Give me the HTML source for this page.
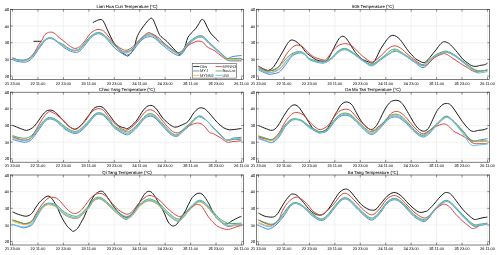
<!DOCTYPE html><html><head><meta charset="utf-8"><style>html,body{margin:0;padding:0;background:#fff;width:500px;height:255px;overflow:hidden}svg{display:block}text{font-family:"Liberation Sans",sans-serif;text-rendering:geometricPrecision}.t{filter:grayscale(1) blur(0.22px)}</style></head><body>
<svg width="500" height="255" viewBox="0 0 500 255">
<path d="M12.52 9.40V79.40M37.96 9.40V79.40M63.40 9.40V79.40M88.84 9.40V79.40M114.28 9.40V79.40M139.72 9.40V79.40M165.16 9.40V79.40M190.60 9.40V79.40M216.04 9.40V79.40M241.48 9.40V79.40M10.40 76.07H243.60M10.40 59.40H243.60M10.40 42.73H243.60M10.40 26.07H243.60" stroke="#e4e4e4" stroke-width="0.5" fill="none"/>
<clipPath id="cp0"><rect x="12.52" y="4.40" width="228.96" height="80.00"/></clipPath><g clip-path="url(#cp0)">
<path d="M33.90 41.30 C35.08 41.30 39.82 41.30 41.00 41.30" stroke="#1a1a1a" stroke-width="1.00" fill="none" stroke-linejoin="round" stroke-linecap="round"/>
<path d="M93.10 22.50 C93.68 22.20 95.28 21.20 96.60 20.70 C97.92 20.20 99.82 19.32 101.00 19.50 C102.18 19.68 102.67 20.17 103.70 21.80 C104.73 23.43 106.03 26.78 107.20 29.30 C108.37 31.82 109.38 34.30 110.70 36.90 C112.02 39.50 113.48 42.55 115.10 44.90 C116.72 47.25 118.63 49.33 120.40 51.00 C122.17 52.67 124.48 54.07 125.70 54.90 C126.92 55.73 126.78 56.32 127.70 56.00 C128.62 55.68 130.08 54.53 131.20 53.00 C132.32 51.47 133.43 49.43 134.40 46.80 C135.37 44.17 136.00 39.90 137.00 37.20 C138.00 34.50 138.97 32.88 140.40 30.60 C141.83 28.32 143.90 25.55 145.60 23.50 C147.30 21.45 149.32 18.88 150.60 18.30 C151.88 17.72 152.42 18.70 153.30 20.00 C154.18 21.30 154.88 23.68 155.90 26.10 C156.92 28.52 158.25 32.50 159.40 34.50 C160.55 36.50 161.52 36.92 162.80 38.10 C164.08 39.28 165.37 39.90 167.10 41.60 C168.83 43.30 171.50 46.52 173.20 48.30 C174.90 50.08 176.27 51.25 177.30 52.30 C178.33 53.35 178.62 54.60 179.40 54.60 C180.18 54.60 181.18 53.32 182.00 52.30 C182.82 51.28 183.63 49.97 184.30 48.50 C184.97 47.03 185.42 45.32 186.00 43.50 C186.58 41.68 186.93 39.32 187.80 37.60 C188.67 35.88 189.90 34.68 191.20 33.20 C192.50 31.72 194.30 30.32 195.60 28.70 C196.90 27.08 198.00 25.03 199.00 23.50 C200.00 21.97 200.73 19.93 201.60 19.50 C202.47 19.07 203.20 19.52 204.20 20.90 C205.20 22.28 206.45 25.65 207.60 27.80 C208.75 29.95 209.80 32.08 211.10 33.80 C212.40 35.52 214.17 36.87 215.40 38.10 C216.63 39.33 217.98 40.68 218.50 41.20" stroke="#1a1a1a" stroke-width="1.00" fill="none" stroke-linejoin="round" stroke-linecap="round"/>
<path d="M10.40 58.60 C11.33 59.00 13.78 60.40 16.00 61.00 C18.22 61.60 21.53 62.23 23.70 62.20 C25.87 62.17 27.28 61.83 29.00 60.80 C30.72 59.77 32.45 57.87 34.00 56.00 C35.55 54.13 36.97 51.52 38.30 49.60 C39.63 47.68 40.88 46.02 42.00 44.50 C43.12 42.98 43.87 41.48 45.00 40.50 C46.13 39.52 47.47 38.82 48.80 38.60 C50.13 38.38 51.30 38.38 53.00 39.20 C54.70 40.02 57.17 42.12 59.00 43.50 C60.83 44.88 62.33 46.33 64.00 47.50 C65.67 48.67 67.08 49.68 69.00 50.50 C70.92 51.32 73.67 52.35 75.50 52.40 C77.33 52.45 78.38 52.05 80.00 50.80 C81.62 49.55 83.37 47.12 85.20 44.90 C87.03 42.68 88.95 39.35 91.00 37.50 C93.05 35.65 95.50 34.13 97.50 33.80 C99.50 33.47 101.23 34.38 103.00 35.50 C104.77 36.62 106.08 38.35 108.10 40.50 C110.12 42.65 112.45 46.05 115.10 48.40 C117.75 50.75 122.02 53.47 124.00 54.60 C125.98 55.73 125.67 55.63 127.00 55.20 C128.33 54.77 130.27 53.70 132.00 52.00 C133.73 50.30 135.57 47.17 137.40 45.00 C139.23 42.83 141.08 40.38 143.00 39.00 C144.92 37.62 147.07 36.90 148.90 36.70 C150.73 36.50 152.15 36.75 154.00 37.80 C155.85 38.85 158.12 41.42 160.00 43.00 C161.88 44.58 163.30 45.72 165.30 47.30 C167.30 48.88 169.72 51.12 172.00 52.50 C174.28 53.88 177.17 55.60 179.00 55.60 C180.83 55.60 181.62 54.10 183.00 52.50 C184.38 50.90 185.70 47.95 187.30 46.00 C188.90 44.05 190.98 42.17 192.60 40.80 C194.22 39.43 195.77 38.40 197.00 37.80 C198.23 37.20 198.92 37.17 200.00 37.20 C201.08 37.23 202.08 37.03 203.50 38.00 C204.92 38.97 206.35 41.00 208.50 43.00 C210.65 45.00 213.77 47.67 216.40 50.00 C219.03 52.33 222.37 55.58 224.30 57.00 C226.23 58.42 226.55 58.58 228.00 58.50 C229.45 58.42 230.42 57.03 233.00 56.50 C235.58 55.97 241.75 55.50 243.50 55.30" stroke="#4f81d6" stroke-width="1.00" fill="none" stroke-linejoin="round" stroke-linecap="round"/>
<path d="M10.40 56.36 C11.33 56.86 13.92 58.62 16.00 59.38 C18.08 60.14 21.62 60.65 22.90 60.89 C24.18 61.13 22.85 61.01 23.70 60.84 C24.55 60.66 27.12 60.09 28.00 59.83 C28.88 59.56 28.17 59.91 29.00 59.24 C29.83 58.57 32.17 56.56 33.00 55.78 C33.83 55.01 33.12 55.80 34.00 54.58 C34.88 53.37 36.97 50.35 38.30 48.52 C39.63 46.69 40.88 45.04 42.00 43.60 C43.12 42.16 43.87 40.80 45.00 39.90 C46.13 39.00 47.47 38.37 48.80 38.18 C50.13 37.99 51.30 37.99 53.00 38.78 C54.70 39.57 57.17 41.71 59.00 42.90 C60.83 44.09 62.33 44.87 64.00 45.94 C65.67 47.01 67.23 48.46 69.00 49.30 C70.77 50.14 73.52 50.71 74.60 50.97 C75.68 51.24 74.60 51.17 75.50 50.90 C76.40 50.63 78.38 50.63 80.00 49.36 C81.62 48.09 83.37 45.41 85.20 43.28 C87.03 41.15 88.95 38.31 91.00 36.60 C93.05 34.89 95.50 33.35 97.50 33.02 C99.50 32.69 101.23 33.53 103.00 34.60 C104.77 35.67 106.08 37.47 108.10 39.42 C110.12 41.37 112.75 44.21 115.10 46.30 C117.45 48.39 120.72 50.90 122.20 51.94 C123.68 52.98 123.23 52.39 124.00 52.56 C124.77 52.73 126.30 52.90 126.80 52.96 C127.30 53.02 126.13 53.38 127.00 52.92 C127.87 52.46 130.27 51.72 132.00 50.20 C133.73 48.68 135.57 45.85 137.40 43.80 C139.23 41.75 141.08 39.37 143.00 37.92 C144.92 36.47 147.07 35.33 148.90 35.08 C150.73 34.83 152.15 35.33 154.00 36.42 C155.85 37.51 158.12 40.08 160.00 41.62 C161.88 43.16 163.30 44.17 165.30 45.68 C167.30 47.19 169.88 49.31 172.00 50.70 C174.12 52.09 176.83 53.52 178.00 54.04 C179.17 54.57 178.33 54.22 179.00 53.84 C179.67 53.47 181.33 52.32 182.00 51.79 C182.67 51.26 182.12 51.87 183.00 50.68 C183.88 49.48 185.70 46.43 187.30 44.62 C188.90 42.81 190.98 41.11 192.60 39.84 C194.22 38.57 195.77 37.61 197.00 37.02 C198.23 36.43 198.92 36.29 200.00 36.30 C201.08 36.31 202.08 36.12 203.50 37.10 C204.92 38.08 206.35 40.11 208.50 42.16 C210.65 44.21 213.77 46.94 216.40 49.40 C219.03 51.86 222.37 55.20 224.30 56.92 C226.23 58.64 226.55 59.30 228.00 59.70 C229.45 60.10 231.83 59.38 233.00 59.30 C234.17 59.22 233.25 59.31 235.00 59.21 C236.75 59.11 242.08 58.78 243.50 58.70" stroke="#f2b135" stroke-width="1.00" fill="none" stroke-linejoin="round" stroke-linecap="round"/>
<path d="M10.40 57.20 C11.17 57.50 13.23 58.43 15.00 59.00 C16.77 59.57 19.33 60.40 21.00 60.60 C22.67 60.80 23.50 60.72 25.00 60.20 C26.50 59.68 28.33 58.95 30.00 57.50 C31.67 56.05 33.62 53.50 35.00 51.50 C36.38 49.50 37.13 47.42 38.30 45.50 C39.47 43.58 40.88 41.83 42.00 40.00 C43.12 38.17 43.73 35.80 45.00 34.50 C46.27 33.20 48.10 32.45 49.60 32.20 C51.10 31.95 52.43 32.12 54.00 33.00 C55.57 33.88 57.33 36.12 59.00 37.50 C60.67 38.88 62.28 39.93 64.00 41.30 C65.72 42.67 67.53 44.52 69.30 45.70 C71.07 46.88 72.83 48.25 74.60 48.40 C76.37 48.55 78.13 47.92 79.90 46.60 C81.67 45.28 83.43 42.70 85.20 40.50 C86.97 38.30 88.75 35.15 90.50 33.40 C92.25 31.65 94.23 30.65 95.70 30.00 C97.17 29.35 97.97 29.32 99.30 29.50 C100.63 29.68 102.23 30.02 103.70 31.10 C105.17 32.18 106.63 34.30 108.10 36.00 C109.57 37.70 111.03 39.68 112.50 41.30 C113.97 42.92 115.28 44.37 116.90 45.70 C118.52 47.03 120.55 48.55 122.20 49.30 C123.85 50.05 125.15 50.53 126.80 50.20 C128.45 49.87 130.33 48.67 132.10 47.30 C133.87 45.93 135.63 43.77 137.40 42.00 C139.17 40.23 140.93 38.23 142.70 36.70 C144.47 35.17 146.53 33.33 148.00 32.80 C149.47 32.27 150.33 33.08 151.50 33.50 C152.67 33.92 153.68 34.47 155.00 35.30 C156.32 36.13 157.92 37.23 159.40 38.50 C160.88 39.77 162.28 41.43 163.90 42.90 C165.52 44.37 167.35 45.98 169.10 47.30 C170.85 48.62 172.78 49.93 174.40 50.80 C176.02 51.67 177.28 52.62 178.80 52.50 C180.32 52.38 181.92 51.28 183.50 50.10 C185.08 48.92 186.43 46.75 188.30 45.40 C190.17 44.05 192.92 42.73 194.70 42.00 C196.48 41.27 197.57 40.92 199.00 41.00 C200.43 41.08 202.02 41.58 203.30 42.50 C204.58 43.42 205.55 45.50 206.70 46.50 C207.85 47.50 208.82 47.75 210.20 48.50 C211.58 49.25 213.57 50.07 215.00 51.00 C216.43 51.93 217.38 53.00 218.80 54.10 C220.22 55.20 222.03 56.55 223.50 57.60 C224.97 58.65 226.42 59.87 227.60 60.40 C228.78 60.93 229.37 60.72 230.60 60.80 C231.83 60.88 232.85 60.88 235.00 60.90 C237.15 60.92 242.08 60.90 243.50 60.90" stroke="#d9443c" stroke-width="1.00" fill="none" stroke-linejoin="round" stroke-linecap="round"/>
<path d="M10.40 56.80 C11.33 57.22 13.92 58.75 16.00 59.30 C18.08 59.85 20.90 60.15 22.90 60.10 C24.90 60.05 26.32 59.85 28.00 59.00 C29.68 58.15 31.28 56.87 33.00 55.00 C34.72 53.13 36.80 49.80 38.30 47.80 C39.80 45.80 40.88 44.38 42.00 43.00 C43.12 41.62 43.87 40.35 45.00 39.50 C46.13 38.65 47.47 38.07 48.80 37.90 C50.13 37.73 51.30 37.73 53.00 38.50 C54.70 39.27 57.17 41.43 59.00 42.50 C60.83 43.57 62.33 43.90 64.00 44.90 C65.67 45.90 67.23 47.62 69.00 48.50 C70.77 49.38 72.77 50.22 74.60 50.20 C76.43 50.18 78.23 49.73 80.00 48.40 C81.77 47.07 83.37 44.27 85.20 42.20 C87.03 40.13 88.95 37.62 91.00 36.00 C93.05 34.38 95.50 32.83 97.50 32.50 C99.50 32.17 101.23 32.97 103.00 34.00 C104.77 35.03 106.08 36.88 108.10 38.70 C110.12 40.52 112.75 42.85 115.10 44.90 C117.45 46.95 120.25 49.90 122.20 51.00 C124.15 52.10 125.17 51.83 126.80 51.50 C128.43 51.17 130.23 50.42 132.00 49.00 C133.77 47.58 135.57 44.97 137.40 43.00 C139.23 41.03 141.08 38.70 143.00 37.20 C144.92 35.70 147.07 34.28 148.90 34.00 C150.73 33.72 152.15 34.38 154.00 35.50 C155.85 36.62 158.12 39.18 160.00 40.70 C161.88 42.22 163.30 43.13 165.30 44.60 C167.30 46.07 169.88 48.05 172.00 49.50 C174.12 50.95 176.33 53.08 178.00 53.30 C179.67 53.52 180.45 52.40 182.00 50.80 C183.55 49.20 185.53 45.63 187.30 43.70 C189.07 41.77 190.98 40.40 192.60 39.20 C194.22 38.00 195.77 37.08 197.00 36.50 C198.23 35.92 198.92 35.70 200.00 35.70 C201.08 35.70 202.08 35.52 203.50 36.50 C204.92 37.48 206.35 39.52 208.50 41.60 C210.65 43.68 213.77 46.58 216.40 49.00 C219.03 51.42 222.37 54.52 224.30 56.10 C226.23 57.68 226.22 58.10 228.00 58.50 C229.78 58.90 232.42 58.53 235.00 58.50 C237.58 58.47 242.08 58.33 243.50 58.30" stroke="#4aa868" stroke-width="1.00" fill="none" stroke-linejoin="round" stroke-linecap="round"/>
<path d="M10.40 57.43 C11.33 57.84 13.92 59.33 16.00 59.89 C18.08 60.46 21.62 60.65 22.90 60.79 C24.18 60.93 22.85 60.90 23.70 60.72 C24.55 60.54 27.12 59.99 28.00 59.72 C28.88 59.45 28.17 59.78 29.00 59.11 C29.83 58.44 32.17 56.46 33.00 55.69 C33.83 54.91 33.12 55.68 34.00 54.47 C34.88 53.26 36.97 50.25 38.30 48.43 C39.63 46.61 40.88 44.95 42.00 43.52 C43.12 42.09 43.87 40.75 45.00 39.85 C46.13 38.95 47.47 38.33 48.80 38.14 C50.13 37.96 51.30 37.96 53.00 38.74 C54.70 39.53 57.17 41.67 59.00 42.85 C60.83 44.03 62.33 44.75 64.00 45.81 C65.67 46.87 67.23 48.36 69.00 49.20 C70.77 50.04 73.52 50.62 74.60 50.88 C75.68 51.14 74.60 51.05 75.50 50.77 C76.40 50.50 78.38 50.51 80.00 49.24 C81.62 47.97 83.37 45.26 85.20 43.15 C87.03 41.03 88.95 38.22 91.00 36.52 C93.05 34.83 95.50 33.29 97.50 32.95 C99.50 32.62 101.23 33.46 103.00 34.52 C104.77 35.59 106.08 37.40 108.10 39.33 C110.12 41.26 112.75 44.04 115.10 46.12 C117.45 48.21 120.72 50.78 122.20 51.82 C123.68 52.86 123.23 52.23 124.00 52.39 C124.77 52.55 126.30 52.72 126.80 52.78 C127.30 52.84 126.13 53.19 127.00 52.73 C127.87 52.28 130.27 51.56 132.00 50.05 C133.73 48.54 135.57 45.74 137.40 43.70 C139.23 41.66 141.08 39.29 143.00 37.83 C144.92 36.37 147.07 35.20 148.90 34.95 C150.73 34.69 152.15 35.21 154.00 36.30 C155.85 37.40 158.12 39.97 160.00 41.51 C161.88 43.05 163.30 44.04 165.30 45.55 C167.30 47.05 169.88 49.15 172.00 50.55 C174.12 51.95 176.83 53.43 178.00 53.95 C179.17 54.47 178.33 54.08 179.00 53.70 C179.67 53.32 181.33 52.20 182.00 51.67 C182.67 51.14 182.12 51.72 183.00 50.52 C183.88 49.33 185.70 46.30 187.30 44.51 C188.90 42.71 190.98 41.02 192.60 39.76 C194.22 38.50 195.77 37.54 197.00 36.95 C198.23 36.37 198.92 36.21 200.00 36.23 C201.08 36.24 202.08 36.05 203.50 37.02 C204.92 38.00 206.35 40.04 208.50 42.09 C210.65 44.14 213.77 46.84 216.40 49.35 C219.03 51.86 222.37 55.30 224.30 57.13 C226.23 58.97 226.55 59.85 228.00 60.38 C229.45 60.90 231.83 60.33 233.00 60.30 C234.17 60.27 233.25 60.31 235.00 60.22 C236.75 60.13 242.08 59.83 243.50 59.75" stroke="#5fc3ee" stroke-width="1.00" fill="none" stroke-linejoin="round" stroke-linecap="round"/>
</g>
<path d="M12.52 79.40v-2.30M12.52 9.40v2.30M37.96 79.40v-2.30M37.96 9.40v2.30M63.40 79.40v-2.30M63.40 9.40v2.30M88.84 79.40v-2.30M88.84 9.40v2.30M114.28 79.40v-2.30M114.28 9.40v2.30M139.72 79.40v-2.30M139.72 9.40v2.30M165.16 79.40v-2.30M165.16 9.40v2.30M190.60 79.40v-2.30M190.60 9.40v2.30M216.04 79.40v-2.30M216.04 9.40v2.30M241.48 79.40v-2.30M241.48 9.40v2.30M10.40 76.07h2.30M243.60 76.07h-2.30M10.40 59.40h2.30M243.60 59.40h-2.30M10.40 42.73h2.30M243.60 42.73h-2.30M10.40 26.07h2.30M243.60 26.07h-2.30M10.40 9.40h2.30M243.60 9.40h-2.30" stroke="#262626" stroke-width="0.5" fill="none"/>
<rect x="10.40" y="9.40" width="233.20" height="70.00" stroke="#262626" stroke-width="0.6" fill="none"/>
<path d="M258.52 9.40V79.40M283.96 9.40V79.40M309.40 9.40V79.40M334.84 9.40V79.40M360.28 9.40V79.40M385.72 9.40V79.40M411.16 9.40V79.40M436.60 9.40V79.40M462.04 9.40V79.40M487.48 9.40V79.40M256.40 76.07H489.60M256.40 59.40H489.60M256.40 42.73H489.60M256.40 26.07H489.60" stroke="#e4e4e4" stroke-width="0.5" fill="none"/>
<clipPath id="cp1"><rect x="258.52" y="4.40" width="228.96" height="80.00"/></clipPath><g clip-path="url(#cp1)">
<path d="M258.50 66.40 C259.33 66.82 262.00 68.23 263.50 68.90 C265.00 69.57 266.42 70.22 267.50 70.40 C268.58 70.58 269.75 69.98 270.00 70.00 C270.25 70.02 268.48 70.93 269.00 70.50 C269.52 70.07 271.73 68.93 273.10 67.40 C274.47 65.87 275.83 63.50 277.20 61.30 C278.57 59.10 280.02 56.42 281.30 54.20 C282.58 51.98 283.87 49.78 284.90 48.00 C285.93 46.22 286.65 44.73 287.50 43.50 C288.35 42.27 289.20 41.18 290.00 40.60 C290.80 40.02 291.38 39.90 292.30 40.00 C293.22 40.10 294.47 40.60 295.50 41.20 C296.53 41.80 297.42 42.67 298.50 43.60 C299.58 44.53 300.85 45.43 302.00 46.80 C303.15 48.17 304.07 50.33 305.40 51.80 C306.73 53.27 308.15 54.25 310.00 55.60 C311.85 56.95 314.52 59.00 316.50 59.90 C318.48 60.80 320.28 60.82 321.90 61.00 C323.52 61.18 325.02 61.58 326.20 61.00 C327.38 60.42 328.20 58.68 329.00 57.50 C329.80 56.32 330.23 55.40 331.00 53.90 C331.77 52.40 332.73 50.23 333.60 48.50 C334.47 46.77 335.28 45.15 336.20 43.50 C337.12 41.85 338.08 39.80 339.10 38.60 C340.12 37.40 341.22 36.45 342.30 36.30 C343.38 36.15 344.33 36.47 345.60 37.70 C346.87 38.93 348.28 41.27 349.90 43.70 C351.52 46.13 353.33 49.78 355.30 52.30 C357.27 54.82 359.55 57.22 361.70 58.80 C363.85 60.38 366.43 61.10 368.20 61.80 C369.97 62.50 371.17 63.25 372.30 63.00 C373.43 62.75 374.08 61.67 375.00 60.30 C375.92 58.93 376.85 56.70 377.80 54.80 C378.75 52.90 379.35 51.20 380.70 48.90 C382.05 46.60 384.43 43.02 385.90 41.00 C387.37 38.98 388.35 37.75 389.50 36.80 C390.65 35.85 391.63 35.35 392.80 35.30 C393.97 35.25 395.30 35.80 396.50 36.50 C397.70 37.20 398.92 38.33 400.00 39.50 C401.08 40.67 401.90 41.97 403.00 43.50 C404.10 45.03 405.43 47.12 406.60 48.70 C407.77 50.28 408.87 51.70 410.00 53.00 C411.13 54.30 412.47 55.53 413.40 56.50 C414.33 57.47 414.02 57.78 415.60 58.80 C417.18 59.82 421.12 62.18 422.90 62.60 C424.68 63.02 425.15 62.13 426.30 61.30 C427.45 60.47 428.65 58.93 429.80 57.60 C430.95 56.27 432.05 54.73 433.20 53.30 C434.35 51.87 435.57 50.47 436.70 49.00 C437.83 47.53 438.85 45.70 440.00 44.50 C441.15 43.30 442.43 42.13 443.60 41.80 C444.77 41.47 445.85 42.00 447.00 42.50 C448.15 43.00 448.77 43.15 450.50 44.80 C452.23 46.45 455.38 50.03 457.40 52.40 C459.42 54.77 460.90 57.23 462.60 59.00 C464.30 60.77 466.28 62.00 467.60 63.00 C468.92 64.00 469.55 64.47 470.50 65.00 C471.45 65.53 472.25 65.98 473.30 66.20 C474.35 66.42 475.77 66.42 476.80 66.30 C477.83 66.18 478.43 65.72 479.50 65.50 C480.57 65.28 482.20 65.18 483.20 65.00 C484.20 64.82 484.77 64.73 485.50 64.40 C486.23 64.07 487.25 63.23 487.60 63.00" stroke="#1a1a1a" stroke-width="1.00" fill="none" stroke-linejoin="round" stroke-linecap="round"/>
<path d="M258.30 69.80 C259.25 70.25 262.20 71.75 264.00 72.50 C265.80 73.25 267.43 74.12 269.10 74.30 C270.77 74.48 272.30 73.98 274.00 73.60 C275.70 73.22 277.57 73.20 279.30 72.00 C281.03 70.80 282.70 68.52 284.40 66.40 C286.10 64.28 288.23 61.00 289.50 59.30 C290.77 57.60 290.92 57.12 292.00 56.20 C293.08 55.28 294.55 54.35 296.00 53.80 C297.45 53.25 299.20 52.73 300.70 52.90 C302.20 53.07 303.45 53.63 305.00 54.80 C306.55 55.97 307.02 58.52 310.00 59.90 C312.98 61.28 319.30 63.30 322.90 63.10 C326.50 62.90 329.08 60.47 331.60 58.70 C334.12 56.93 335.85 54.00 338.00 52.50 C340.15 51.00 342.33 49.73 344.50 49.70 C346.67 49.67 348.48 50.83 351.00 52.30 C353.52 53.77 357.10 56.72 359.60 58.50 C362.10 60.28 363.85 61.80 366.00 63.00 C368.15 64.20 369.63 66.53 372.50 65.70 C375.37 64.87 379.43 60.42 383.20 58.00 C386.97 55.58 391.50 51.62 395.10 51.20 C398.70 50.78 401.38 53.53 404.80 55.50 C408.22 57.47 412.37 61.02 415.60 63.00 C418.83 64.98 421.03 68.40 424.20 67.40 C427.37 66.40 431.07 59.52 434.60 57.00 C438.13 54.48 442.17 52.55 445.40 52.30 C448.63 52.05 451.13 53.88 454.00 55.50 C456.87 57.12 459.72 59.85 462.60 62.00 C465.48 64.15 468.78 66.78 471.30 68.40 C473.82 70.02 475.02 71.50 477.70 71.70 C480.38 71.90 485.78 69.95 487.40 69.60" stroke="#4f81d6" stroke-width="1.00" fill="none" stroke-linejoin="round" stroke-linecap="round"/>
<path d="M258.30 68.70 C259.25 69.12 262.57 70.59 264.00 71.19 C265.43 71.79 266.05 72.10 266.90 72.30 C267.75 72.50 268.25 72.46 269.10 72.39 C269.95 72.32 271.18 72.05 272.00 71.86 C272.82 71.67 273.30 71.49 274.00 71.26 C274.70 71.02 275.32 70.87 276.20 70.44 C277.08 70.01 278.45 69.28 279.30 68.68 C280.15 68.08 280.45 67.74 281.30 66.83 C282.15 65.92 283.55 64.26 284.40 63.23 C285.25 62.19 285.55 61.62 286.40 60.64 C287.25 59.65 288.57 58.29 289.50 57.32 C290.43 56.36 290.92 55.58 292.00 54.83 C293.08 54.07 294.78 53.23 296.00 52.81 C297.22 52.39 298.52 52.38 299.30 52.31 C300.08 52.23 300.17 52.25 300.70 52.35 C301.23 52.46 301.78 52.56 302.50 52.93 C303.22 53.30 304.52 54.23 305.00 54.56 C305.48 54.90 304.57 54.14 305.40 54.93 C306.23 55.72 307.08 58.03 310.00 59.29 C312.92 60.56 319.30 62.69 322.90 62.49 C326.50 62.30 329.08 59.94 331.60 58.15 C334.12 56.37 335.85 53.31 338.00 51.79 C340.15 50.26 342.33 49.00 344.50 48.98 C346.67 48.97 348.48 50.18 351.00 51.70 C353.52 53.21 357.10 56.27 359.60 58.06 C362.10 59.85 363.85 61.31 366.00 62.45 C368.15 63.59 369.63 65.75 372.50 64.88 C375.37 64.00 379.62 59.65 383.20 57.23 C386.78 54.81 392.02 51.47 394.00 50.33 C395.98 49.18 393.30 49.58 395.10 50.35 C396.90 51.12 401.38 52.93 404.80 54.95 C408.22 56.97 412.73 60.70 415.60 62.45 C418.47 64.20 420.57 64.98 422.00 65.46 C423.43 65.95 423.45 65.65 424.20 65.35 C424.95 65.05 424.77 65.19 426.50 63.67 C428.23 62.15 432.17 57.98 434.60 56.23 C437.03 54.48 439.30 53.88 441.10 53.14 C442.90 52.41 444.50 52.03 445.40 51.82 C446.30 51.61 445.07 51.36 446.50 51.88 C447.93 52.40 451.32 53.36 454.00 54.95 C456.68 56.54 459.72 59.24 462.60 61.39 C465.48 63.54 468.78 66.23 471.30 67.85 C473.82 69.47 475.02 70.71 477.70 71.09 C480.38 71.48 485.78 70.31 487.40 70.15" stroke="#f2b135" stroke-width="1.00" fill="none" stroke-linejoin="round" stroke-linecap="round"/>
<path d="M258.30 65.70 C259.17 66.35 262.00 68.80 263.50 69.60 C265.00 70.40 265.70 70.38 267.30 70.50 C268.90 70.62 271.28 70.82 273.10 70.30 C274.92 69.78 276.58 69.07 278.20 67.40 C279.82 65.73 281.43 62.50 282.80 60.30 C284.17 58.10 285.28 55.87 286.40 54.20 C287.52 52.53 288.40 51.53 289.50 50.30 C290.60 49.07 291.82 47.65 293.00 46.80 C294.18 45.95 295.42 45.40 296.60 45.20 C297.78 45.00 298.93 45.23 300.10 45.60 C301.27 45.97 302.30 46.28 303.60 47.40 C304.90 48.52 306.28 50.77 307.90 52.30 C309.52 53.83 311.62 55.57 313.30 56.60 C314.98 57.63 316.40 57.95 318.00 58.50 C319.60 59.05 321.53 59.75 322.90 59.90 C324.27 60.05 324.75 60.67 326.20 59.40 C327.65 58.13 329.82 54.43 331.60 52.30 C333.38 50.17 335.12 47.98 336.90 46.60 C338.68 45.22 340.58 44.45 342.30 44.00 C344.02 43.55 345.40 43.42 347.20 43.90 C349.00 44.38 351.03 45.32 353.10 46.90 C355.17 48.48 357.45 51.42 359.60 53.40 C361.75 55.38 363.85 57.37 366.00 58.80 C368.15 60.23 369.98 62.53 372.50 62.00 C375.02 61.47 378.58 57.75 381.10 55.60 C383.62 53.45 385.45 50.72 387.60 49.10 C389.75 47.48 391.85 46.08 394.00 45.90 C396.15 45.72 397.98 46.38 400.50 48.00 C403.02 49.62 406.23 53.27 409.10 55.60 C411.97 57.93 415.37 60.38 417.70 62.00 C420.03 63.62 421.55 64.87 423.10 65.30 C424.65 65.73 425.08 65.87 427.00 64.60 C428.92 63.33 432.25 59.38 434.60 57.70 C436.95 56.02 439.30 55.15 441.10 54.50 C442.90 53.85 443.60 53.27 445.40 53.80 C447.20 54.33 449.75 56.33 451.90 57.70 C454.05 59.07 455.78 60.37 458.30 62.00 C460.82 63.63 464.72 66.07 467.00 67.50 C469.28 68.93 470.13 69.72 472.00 70.60 C473.87 71.48 477.17 72.43 478.20 72.80" stroke="#d9443c" stroke-width="1.00" fill="none" stroke-linejoin="round" stroke-linecap="round"/>
<path d="M258.30 67.80 C259.73 68.38 264.62 70.90 266.90 71.30 C269.18 71.70 270.45 70.68 272.00 70.20 C273.55 69.72 274.65 69.37 276.20 68.40 C277.75 67.43 279.60 66.10 281.30 64.40 C283.00 62.70 284.62 59.98 286.40 58.20 C288.18 56.42 290.40 54.73 292.00 53.70 C293.60 52.67 294.78 52.35 296.00 52.00 C297.22 51.65 298.22 51.55 299.30 51.60 C300.38 51.65 301.48 51.78 302.50 52.30 C303.52 52.82 304.15 53.62 305.40 54.70 C306.65 55.78 307.08 57.58 310.00 58.80 C312.92 60.02 319.30 62.18 322.90 62.00 C326.50 61.82 329.08 59.50 331.60 57.70 C334.12 55.90 335.85 52.75 338.00 51.20 C340.15 49.65 342.33 48.40 344.50 48.40 C346.67 48.40 348.48 49.65 351.00 51.20 C353.52 52.75 357.10 55.90 359.60 57.70 C362.10 59.50 363.85 60.92 366.00 62.00 C368.15 63.08 369.63 65.10 372.50 64.20 C375.37 63.30 379.62 59.12 383.20 56.60 C386.78 54.08 390.40 49.45 394.00 49.10 C397.60 48.75 401.20 52.35 404.80 54.50 C408.40 56.65 412.73 60.28 415.60 62.00 C418.47 63.72 420.18 64.72 422.00 64.80 C423.82 64.88 424.40 64.03 426.50 62.50 C428.60 60.97 432.17 57.30 434.60 55.60 C437.03 53.90 439.12 53.03 441.10 52.30 C443.08 51.57 444.35 50.83 446.50 51.20 C448.65 51.57 451.32 52.88 454.00 54.50 C456.68 56.12 459.72 58.75 462.60 60.90 C465.48 63.05 468.78 65.78 471.30 67.40 C473.82 69.02 475.02 70.07 477.70 70.60 C480.38 71.13 485.78 70.60 487.40 70.60" stroke="#4aa868" stroke-width="1.00" fill="none" stroke-linejoin="round" stroke-linecap="round"/>
<path d="M258.30 69.00 C259.25 69.42 262.57 70.94 264.00 71.55 C265.43 72.15 266.05 72.41 266.90 72.63 C267.75 72.86 268.25 72.95 269.10 72.91 C269.95 72.87 271.18 72.58 272.00 72.41 C272.82 72.24 273.30 72.11 274.00 71.90 C274.70 71.68 275.32 71.51 276.20 71.12 C277.08 70.74 278.45 70.17 279.30 69.59 C280.15 69.01 280.45 68.56 281.30 67.64 C282.15 66.73 283.55 65.12 284.40 64.09 C285.25 63.06 285.55 62.49 286.40 61.45 C287.25 60.41 288.57 58.91 289.50 57.86 C290.43 56.82 290.92 56.00 292.00 55.20 C293.08 54.40 294.78 53.52 296.00 53.08 C297.22 52.64 298.52 52.64 299.30 52.54 C300.08 52.44 300.17 52.40 300.70 52.50 C301.23 52.60 301.78 52.78 302.50 53.14 C303.22 53.49 304.52 54.32 305.00 54.63 C305.48 54.94 304.57 54.20 305.40 55.00 C306.23 55.81 307.08 58.18 310.00 59.46 C312.92 60.74 319.30 62.85 322.90 62.66 C326.50 62.47 329.08 60.08 331.60 58.30 C334.12 56.52 335.85 53.50 338.00 51.98 C340.15 50.46 342.33 49.20 344.50 49.18 C346.67 49.16 348.48 50.36 351.00 51.86 C353.52 53.36 357.10 56.39 359.60 58.18 C362.10 59.97 363.85 61.45 366.00 62.60 C368.15 63.75 369.63 65.96 372.50 65.10 C375.37 64.24 379.62 59.83 383.20 57.44 C386.78 55.05 392.02 51.88 394.00 50.74 C395.98 49.59 393.30 49.85 395.10 50.58 C396.90 51.31 401.38 53.10 404.80 55.10 C408.22 57.10 412.73 60.84 415.60 62.60 C418.47 64.36 420.57 65.13 422.00 65.68 C423.43 66.24 423.45 66.18 424.20 65.91 C424.95 65.64 424.77 65.64 426.50 64.06 C428.23 62.48 432.17 58.21 434.60 56.44 C437.03 54.67 439.30 54.17 441.10 53.42 C442.90 52.67 444.50 52.17 445.40 51.95 C446.30 51.73 445.07 51.58 446.50 52.11 C447.93 52.63 451.32 53.51 454.00 55.10 C456.68 56.69 459.72 59.29 462.60 61.63 C465.48 63.97 468.78 67.27 471.30 69.14 C473.82 71.02 475.02 72.45 477.70 72.86 C480.38 73.27 485.78 71.81 487.40 71.60" stroke="#5fc3ee" stroke-width="1.00" fill="none" stroke-linejoin="round" stroke-linecap="round"/>
</g>
<path d="M258.52 79.40v-2.30M258.52 9.40v2.30M283.96 79.40v-2.30M283.96 9.40v2.30M309.40 79.40v-2.30M309.40 9.40v2.30M334.84 79.40v-2.30M334.84 9.40v2.30M360.28 79.40v-2.30M360.28 9.40v2.30M385.72 79.40v-2.30M385.72 9.40v2.30M411.16 79.40v-2.30M411.16 9.40v2.30M436.60 79.40v-2.30M436.60 9.40v2.30M462.04 79.40v-2.30M462.04 9.40v2.30M487.48 79.40v-2.30M487.48 9.40v2.30M256.40 76.07h2.30M489.60 76.07h-2.30M256.40 59.40h2.30M489.60 59.40h-2.30M256.40 42.73h2.30M489.60 42.73h-2.30M256.40 26.07h2.30M489.60 26.07h-2.30M256.40 9.40h2.30M489.60 9.40h-2.30" stroke="#262626" stroke-width="0.5" fill="none"/>
<rect x="256.40" y="9.40" width="233.20" height="70.00" stroke="#262626" stroke-width="0.6" fill="none"/>
<path d="M12.52 92.20V162.20M37.96 92.20V162.20M63.40 92.20V162.20M88.84 92.20V162.20M114.28 92.20V162.20M139.72 92.20V162.20M165.16 92.20V162.20M190.60 92.20V162.20M216.04 92.20V162.20M241.48 92.20V162.20M10.40 158.87H243.60M10.40 142.20H243.60M10.40 125.53H243.60M10.40 108.87H243.60" stroke="#e4e4e4" stroke-width="0.5" fill="none"/>
<clipPath id="cp2"><rect x="12.52" y="87.20" width="228.96" height="80.00"/></clipPath><g clip-path="url(#cp2)">
<path d="M10.40 124.80 C10.65 124.85 10.67 124.65 11.90 125.10 C13.13 125.55 16.00 126.78 17.80 127.50 C19.60 128.22 21.23 128.92 22.70 129.40 C24.17 129.88 25.30 130.47 26.60 130.40 C27.90 130.33 29.18 129.73 30.50 129.00 C31.82 128.27 33.18 127.37 34.50 126.00 C35.82 124.63 37.10 122.60 38.40 120.80 C39.70 119.00 41.00 116.80 42.30 115.20 C43.60 113.60 45.05 112.03 46.20 111.20 C47.35 110.37 48.05 110.27 49.20 110.20 C50.35 110.13 51.63 110.05 53.10 110.80 C54.57 111.55 56.37 113.12 58.00 114.70 C59.63 116.28 61.27 118.53 62.90 120.30 C64.53 122.07 66.30 123.98 67.80 125.30 C69.30 126.62 70.57 127.58 71.90 128.20 C73.23 128.82 74.17 129.62 75.80 129.00 C77.43 128.38 79.58 126.72 81.70 124.50 C83.82 122.28 86.53 118.32 88.50 115.70 C90.47 113.08 91.85 110.33 93.50 108.80 C95.15 107.27 96.77 106.67 98.40 106.50 C100.03 106.33 101.52 106.43 103.30 107.80 C105.08 109.17 107.15 112.25 109.10 114.70 C111.05 117.15 113.20 120.53 115.00 122.50 C116.80 124.47 118.27 125.58 119.90 126.50 C121.53 127.42 123.47 127.68 124.80 128.00 C126.13 128.32 126.07 129.47 127.90 128.40 C129.73 127.33 133.18 124.70 135.80 121.60 C138.42 118.50 141.32 112.48 143.60 109.80 C145.88 107.12 147.53 105.83 149.50 105.50 C151.47 105.17 153.12 105.62 155.40 107.80 C157.68 109.98 160.58 115.65 163.20 118.60 C165.82 121.55 168.97 124.08 171.10 125.50 C173.23 126.92 174.05 127.27 176.00 127.10 C177.95 126.93 180.82 125.42 182.80 124.50 C184.78 123.58 186.20 123.35 187.90 121.60 C189.60 119.85 191.48 116.02 193.00 114.00 C194.52 111.98 195.73 110.53 197.00 109.50 C198.27 108.47 199.18 107.82 200.60 107.80 C202.02 107.78 203.70 108.08 205.50 109.40 C207.30 110.72 209.43 113.52 211.40 115.70 C213.37 117.88 215.33 120.53 217.30 122.50 C219.27 124.47 221.23 126.28 223.20 127.50 C225.17 128.72 227.15 129.48 229.10 129.80 C231.05 130.12 232.78 129.63 234.90 129.40 C237.02 129.17 240.65 128.57 241.80 128.40" stroke="#1a1a1a" stroke-width="1.00" fill="none" stroke-linejoin="round" stroke-linecap="round"/>
<path d="M11.90 139.20 C12.92 139.50 15.72 140.50 18.00 141.00 C20.28 141.50 23.35 142.45 25.60 142.20 C27.85 141.95 29.37 141.45 31.50 139.50 C33.63 137.55 36.32 133.33 38.40 130.50 C40.48 127.67 42.20 124.42 44.00 122.50 C45.80 120.58 47.37 119.33 49.20 119.00 C51.03 118.67 53.20 119.58 55.00 120.50 C56.80 121.42 58.17 122.92 60.00 124.50 C61.83 126.08 63.53 128.50 66.00 130.00 C68.47 131.50 72.30 133.33 74.80 133.50 C77.30 133.67 78.72 132.67 81.00 131.00 C83.28 129.33 86.33 125.92 88.50 123.50 C90.67 121.08 92.35 118.07 94.00 116.50 C95.65 114.93 96.73 114.18 98.40 114.10 C100.07 114.02 102.07 114.60 104.00 116.00 C105.93 117.40 108.17 120.42 110.00 122.50 C111.83 124.58 112.53 126.53 115.00 128.50 C117.47 130.47 122.32 133.43 124.80 134.30 C127.28 135.17 127.87 134.83 129.90 133.70 C131.93 132.57 134.72 129.87 137.00 127.50 C139.28 125.13 141.58 121.37 143.60 119.50 C145.62 117.63 147.20 116.55 149.10 116.30 C151.00 116.05 152.68 116.30 155.00 118.00 C157.32 119.70 160.33 123.75 163.00 126.50 C165.67 129.25 168.67 132.87 171.00 134.50 C173.33 136.13 175.17 136.65 177.00 136.30 C178.83 135.95 179.87 134.28 182.00 132.40 C184.13 130.52 187.02 127.72 189.80 125.00 C192.58 122.28 196.08 117.00 198.70 116.10 C201.32 115.20 203.05 117.62 205.50 119.60 C207.95 121.58 210.78 125.27 213.40 128.00 C216.02 130.73 218.92 133.97 221.20 136.00 C223.48 138.03 225.13 139.83 227.10 140.20 C229.07 140.57 230.55 138.68 233.00 138.20 C235.45 137.72 240.33 137.45 241.80 137.30" stroke="#4f81d6" stroke-width="1.00" fill="none" stroke-linejoin="round" stroke-linecap="round"/>
<path d="M11.90 137.06 C12.92 137.37 15.72 138.47 18.00 138.97 C20.28 139.46 23.35 140.28 25.60 140.00 C27.85 139.72 29.37 139.16 31.50 137.30 C33.63 135.44 36.32 131.50 38.40 128.85 C40.48 126.20 42.20 123.17 44.00 121.40 C45.80 119.63 47.37 118.52 49.20 118.23 C51.03 117.94 53.20 118.81 55.00 119.67 C56.80 120.54 58.17 121.91 60.00 123.40 C61.83 124.89 63.53 127.13 66.00 128.62 C68.47 130.12 72.30 132.18 74.80 132.34 C77.30 132.51 78.72 131.33 81.00 129.62 C83.28 127.92 86.33 124.45 88.50 122.12 C90.67 119.80 92.35 117.14 94.00 115.67 C95.65 114.21 96.73 113.41 98.40 113.33 C100.07 113.25 102.07 113.83 104.00 115.17 C105.93 116.52 108.17 119.36 110.00 121.40 C111.83 123.44 112.53 125.52 115.00 127.40 C117.47 129.28 122.32 131.90 124.80 132.71 C127.28 133.51 127.87 133.31 129.90 132.22 C131.93 131.12 134.72 128.43 137.00 126.12 C139.28 123.82 141.58 120.28 143.60 118.40 C145.62 116.52 147.20 115.17 149.10 114.87 C151.00 114.57 152.68 114.92 155.00 116.62 C157.32 118.33 160.33 122.33 163.00 125.12 C165.67 127.92 168.67 131.67 171.00 133.40 C173.33 135.13 175.17 135.88 177.00 135.53 C178.83 135.18 179.87 133.19 182.00 131.30 C184.13 129.41 187.18 126.58 189.80 124.17 C192.42 121.77 196.22 118.14 197.70 116.88 C199.18 115.62 197.40 116.18 198.70 116.63 C200.00 117.09 203.05 117.75 205.50 119.60 C207.95 121.45 210.78 125.06 213.40 127.72 C216.02 130.39 218.92 133.54 221.20 135.62 C223.48 137.69 225.13 139.66 227.10 140.20 C229.07 140.74 231.70 139.14 233.00 138.88 C234.30 138.63 233.43 138.66 234.90 138.66 C236.37 138.66 240.65 138.86 241.80 138.90" stroke="#f2b135" stroke-width="1.00" fill="none" stroke-linejoin="round" stroke-linecap="round"/>
<path d="M11.90 136.30 C13.22 136.78 17.52 138.55 19.80 139.20 C22.08 139.85 23.65 140.52 25.60 140.20 C27.55 139.88 29.37 139.75 31.50 137.30 C33.63 134.85 36.43 128.78 38.40 125.50 C40.37 122.22 41.67 119.82 43.30 117.60 C44.93 115.38 46.73 113.10 48.20 112.20 C49.67 111.30 50.30 111.45 52.10 112.20 C53.90 112.95 56.87 115.13 59.00 116.70 C61.13 118.27 63.08 119.88 64.90 121.60 C66.72 123.32 68.42 125.77 69.90 127.00 C71.38 128.23 72.48 128.77 73.80 129.00 C75.12 129.23 75.83 129.80 77.80 128.40 C79.77 127.00 83.32 123.30 85.60 120.60 C87.88 117.90 89.53 114.17 91.50 112.20 C93.47 110.23 95.43 109.13 97.40 108.80 C99.37 108.47 101.35 108.73 103.30 110.20 C105.25 111.67 106.82 115.05 109.10 117.60 C111.38 120.15 114.70 123.53 117.00 125.50 C119.30 127.47 121.08 128.68 122.90 129.40 C124.72 130.12 125.75 130.78 127.90 129.80 C130.05 128.82 133.18 126.18 135.80 123.50 C138.42 120.82 141.38 115.98 143.60 113.70 C145.82 111.42 147.13 110.05 149.10 109.80 C151.07 109.55 153.05 110.23 155.40 112.20 C157.75 114.17 160.58 118.57 163.20 121.60 C165.82 124.63 168.80 128.52 171.10 130.40 C173.40 132.28 175.05 132.90 177.00 132.90 C178.95 132.90 180.67 131.63 182.80 130.40 C184.93 129.17 187.97 126.58 189.80 125.50 C191.63 124.42 192.32 124.30 193.80 123.90 C195.28 123.50 197.07 122.83 198.70 123.10 C200.33 123.37 201.80 123.95 203.60 125.50 C205.40 127.05 207.87 131.03 209.50 132.40 C211.13 133.77 211.45 132.73 213.40 133.70 C215.35 134.67 218.92 136.78 221.20 138.20 C223.48 139.62 225.13 141.63 227.10 142.20 C229.07 142.77 230.55 141.83 233.00 141.60 C235.45 141.37 240.33 140.93 241.80 140.80" stroke="#d9443c" stroke-width="1.00" fill="none" stroke-linejoin="round" stroke-linecap="round"/>
<path d="M11.90 135.30 C12.92 135.63 15.72 136.82 18.00 137.30 C20.28 137.78 23.35 138.50 25.60 138.20 C27.85 137.90 29.37 137.28 31.50 135.50 C33.63 133.72 36.32 130.00 38.40 127.50 C40.48 125.00 42.20 122.15 44.00 120.50 C45.80 118.85 47.37 117.85 49.20 117.60 C51.03 117.35 53.20 118.18 55.00 119.00 C56.80 119.82 58.17 121.08 60.00 122.50 C61.83 123.92 63.53 126.02 66.00 127.50 C68.47 128.98 72.30 131.23 74.80 131.40 C77.30 131.57 78.72 130.23 81.00 128.50 C83.28 126.77 86.33 123.25 88.50 121.00 C90.67 118.75 92.35 116.38 94.00 115.00 C95.65 113.62 96.73 112.78 98.40 112.70 C100.07 112.62 102.07 113.20 104.00 114.50 C105.93 115.80 108.17 118.50 110.00 120.50 C111.83 122.50 112.53 124.68 115.00 126.50 C117.47 128.32 122.32 130.65 124.80 131.40 C127.28 132.15 127.87 132.07 129.90 131.00 C131.93 129.93 134.72 127.25 137.00 125.00 C139.28 122.75 141.58 119.38 143.60 117.50 C145.62 115.62 147.20 114.03 149.10 113.70 C151.00 113.37 152.68 113.78 155.00 115.50 C157.32 117.22 160.33 121.17 163.00 124.00 C165.67 126.83 168.67 130.68 171.00 132.50 C173.33 134.32 175.17 135.25 177.00 134.90 C178.83 134.55 179.87 132.30 182.00 130.40 C184.13 128.50 187.18 125.78 189.80 123.50 C192.42 121.22 195.08 117.35 197.70 116.70 C200.32 116.05 202.88 117.80 205.50 119.60 C208.12 121.40 210.78 124.88 213.40 127.50 C216.02 130.12 218.92 133.18 221.20 135.30 C223.48 137.42 224.82 139.55 227.10 140.20 C229.38 140.85 232.45 139.20 234.90 139.20 C237.35 139.20 240.65 140.03 241.80 140.20" stroke="#4aa868" stroke-width="1.00" fill="none" stroke-linejoin="round" stroke-linecap="round"/>
<path d="M11.90 137.64 C12.92 137.95 15.72 139.03 18.00 139.52 C20.28 140.01 23.35 140.87 25.60 140.60 C27.85 140.33 29.37 139.78 31.50 137.90 C33.63 136.02 36.32 132.00 38.40 129.30 C40.48 126.60 42.20 123.51 44.00 121.70 C45.80 119.89 47.37 118.74 49.20 118.44 C51.03 118.14 53.20 119.02 55.00 119.90 C56.80 120.78 58.17 122.18 60.00 123.70 C61.83 125.22 63.53 127.51 66.00 129.00 C68.47 130.49 72.30 132.49 74.80 132.66 C77.30 132.83 78.72 131.69 81.00 130.00 C83.28 128.31 86.33 124.85 88.50 122.50 C90.67 120.15 92.35 117.39 94.00 115.90 C95.65 114.41 96.73 113.62 98.40 113.54 C100.07 113.46 102.07 114.04 104.00 115.40 C105.93 116.76 108.17 119.65 110.00 121.70 C111.83 123.75 112.53 125.79 115.00 127.70 C117.47 129.61 122.32 132.32 124.80 133.14 C127.28 133.96 127.87 133.73 129.90 132.62 C131.93 131.51 134.72 128.82 137.00 126.50 C139.28 124.18 141.58 120.57 143.60 118.70 C145.62 116.83 147.20 115.54 149.10 115.26 C151.00 114.98 152.68 115.29 155.00 117.00 C157.32 118.71 160.33 122.72 163.00 125.50 C165.67 128.28 168.67 131.99 171.00 133.70 C173.33 135.41 175.17 136.09 177.00 135.74 C178.83 135.39 179.87 133.49 182.00 131.60 C184.13 129.71 187.18 126.84 189.80 124.40 C192.42 121.96 196.22 118.26 197.70 116.94 C199.18 115.62 197.40 116.05 198.70 116.49 C200.00 116.93 203.05 117.71 205.50 119.60 C207.95 121.49 210.78 125.11 213.40 127.80 C216.02 130.49 218.92 133.65 221.20 135.72 C223.48 137.79 225.13 139.70 227.10 140.20 C229.07 140.70 231.70 138.98 233.00 138.70 C234.30 138.41 233.43 138.52 234.90 138.48 C236.37 138.44 240.65 138.46 241.80 138.46" stroke="#5fc3ee" stroke-width="1.00" fill="none" stroke-linejoin="round" stroke-linecap="round"/>
</g>
<path d="M12.52 162.20v-2.30M12.52 92.20v2.30M37.96 162.20v-2.30M37.96 92.20v2.30M63.40 162.20v-2.30M63.40 92.20v2.30M88.84 162.20v-2.30M88.84 92.20v2.30M114.28 162.20v-2.30M114.28 92.20v2.30M139.72 162.20v-2.30M139.72 92.20v2.30M165.16 162.20v-2.30M165.16 92.20v2.30M190.60 162.20v-2.30M190.60 92.20v2.30M216.04 162.20v-2.30M216.04 92.20v2.30M241.48 162.20v-2.30M241.48 92.20v2.30M10.40 158.87h2.30M243.60 158.87h-2.30M10.40 142.20h2.30M243.60 142.20h-2.30M10.40 125.53h2.30M243.60 125.53h-2.30M10.40 108.87h2.30M243.60 108.87h-2.30M10.40 92.20h2.30M243.60 92.20h-2.30" stroke="#262626" stroke-width="0.5" fill="none"/>
<rect x="10.40" y="92.20" width="233.20" height="70.00" stroke="#262626" stroke-width="0.6" fill="none"/>
<path d="M258.52 92.20V162.20M283.96 92.20V162.20M309.40 92.20V162.20M334.84 92.20V162.20M360.28 92.20V162.20M385.72 92.20V162.20M411.16 92.20V162.20M436.60 92.20V162.20M462.04 92.20V162.20M487.48 92.20V162.20M256.40 158.87H489.60M256.40 142.20H489.60M256.40 125.53H489.60M256.40 108.87H489.60" stroke="#e4e4e4" stroke-width="0.5" fill="none"/>
<clipPath id="cp3"><rect x="258.52" y="87.20" width="228.96" height="80.00"/></clipPath><g clip-path="url(#cp3)">
<path d="M257.20 124.90 C258.47 125.45 262.28 127.30 264.80 128.20 C267.32 129.10 270.15 130.67 272.30 130.30 C274.45 129.93 275.72 128.52 277.70 126.00 C279.68 123.48 282.22 118.25 284.20 115.20 C286.18 112.15 287.98 109.42 289.60 107.70 C291.22 105.98 292.47 105.08 293.90 104.90 C295.33 104.72 296.58 105.08 298.20 106.60 C299.82 108.12 301.97 111.60 303.60 114.00 C305.23 116.40 306.55 118.73 308.00 121.00 C309.45 123.27 310.97 125.97 312.30 127.60 C313.63 129.23 314.72 130.05 316.00 130.80 C317.28 131.55 318.67 132.07 320.00 132.10 C321.33 132.13 322.63 131.80 324.00 131.00 C325.37 130.20 326.43 129.88 328.20 127.30 C329.97 124.72 333.05 118.30 334.60 115.50 C336.15 112.70 336.52 112.17 337.50 110.50 C338.48 108.83 339.50 106.78 340.50 105.50 C341.50 104.22 342.53 103.38 343.50 102.80 C344.47 102.22 345.30 102.00 346.30 102.00 C347.30 102.00 348.47 102.22 349.50 102.80 C350.53 103.38 351.57 104.25 352.50 105.50 C353.43 106.75 353.58 107.60 355.10 110.30 C356.62 113.00 359.45 118.72 361.60 121.70 C363.75 124.68 366.22 126.93 368.00 128.20 C369.78 129.47 370.88 129.75 372.30 129.30 C373.72 128.85 375.17 127.28 376.50 125.50 C377.83 123.72 379.05 121.02 380.30 118.60 C381.55 116.18 382.80 113.22 384.00 111.00 C385.20 108.78 386.25 106.92 387.50 105.30 C388.75 103.68 390.10 102.13 391.50 101.30 C392.90 100.47 394.48 100.27 395.90 100.30 C397.32 100.33 398.65 100.55 400.00 101.50 C401.35 102.45 402.58 104.00 404.00 106.00 C405.42 108.00 406.98 110.92 408.50 113.50 C410.02 116.08 411.52 119.03 413.10 121.50 C414.68 123.97 416.28 126.68 418.00 128.30 C419.72 129.92 421.70 131.15 423.40 131.20 C425.10 131.25 426.62 130.60 428.20 128.60 C429.78 126.60 431.52 122.02 432.90 119.20 C434.28 116.38 435.35 113.68 436.50 111.70 C437.65 109.72 438.72 108.52 439.80 107.30 C440.88 106.08 441.88 105.05 443.00 104.40 C444.12 103.75 445.23 103.32 446.50 103.40 C447.77 103.48 449.02 103.47 450.60 104.90 C452.18 106.33 454.02 109.20 456.00 112.00 C457.98 114.80 460.33 118.82 462.50 121.70 C464.67 124.58 467.20 127.68 469.00 129.30 C470.80 130.92 471.70 131.23 473.30 131.40 C474.90 131.57 476.98 130.55 478.60 130.30 C480.22 130.05 481.45 130.25 483.00 129.90 C484.55 129.55 487.08 128.48 487.90 128.20" stroke="#1a1a1a" stroke-width="1.00" fill="none" stroke-linejoin="round" stroke-linecap="round"/>
<path d="M258.30 137.90 C259.42 138.33 262.67 139.72 265.00 140.50 C267.33 141.28 269.97 143.18 272.30 142.60 C274.63 142.02 276.88 139.60 279.00 137.00 C281.12 134.40 283.00 129.67 285.00 127.00 C287.00 124.33 289.17 122.23 291.00 121.00 C292.83 119.77 294.17 119.52 296.00 119.60 C297.83 119.68 299.67 120.10 302.00 121.50 C304.33 122.90 307.33 126.17 310.00 128.00 C312.67 129.83 316.23 131.68 318.00 132.50 C319.77 133.32 319.10 133.15 320.60 132.90 C322.10 132.65 324.67 132.90 327.00 131.00 C329.33 129.10 332.43 123.92 334.60 121.50 C336.77 119.08 338.20 117.55 340.00 116.50 C341.80 115.45 343.57 115.12 345.40 115.20 C347.23 115.28 348.73 115.45 351.00 117.00 C353.27 118.55 356.50 122.08 359.00 124.50 C361.50 126.92 364.13 129.88 366.00 131.50 C367.87 133.12 368.82 133.85 370.20 134.20 C371.58 134.55 372.67 134.55 374.30 133.60 C375.93 132.65 378.13 130.43 380.00 128.50 C381.87 126.57 383.75 123.75 385.50 122.00 C387.25 120.25 388.77 118.83 390.50 118.00 C392.23 117.17 394.15 116.83 395.90 117.00 C397.65 117.17 399.15 117.83 401.00 119.00 C402.85 120.17 405.00 122.08 407.00 124.00 C409.00 125.92 410.55 128.37 413.00 130.50 C415.45 132.63 419.20 136.12 421.70 136.80 C424.20 137.48 425.52 136.48 428.00 134.60 C430.48 132.72 433.55 128.43 436.60 125.50 C439.65 122.57 443.73 117.83 446.30 117.00 C448.87 116.17 449.30 118.08 452.00 120.50 C454.70 122.92 459.32 128.08 462.50 131.50 C465.68 134.92 468.23 139.58 471.10 141.00 C473.97 142.42 476.90 140.42 479.70 140.00 C482.50 139.58 486.53 138.75 487.90 138.50" stroke="#4f81d6" stroke-width="1.00" fill="none" stroke-linejoin="round" stroke-linecap="round"/>
<path d="M258.30 136.58 C259.42 136.98 262.67 138.29 265.00 139.00 C267.33 139.71 269.97 141.44 272.30 140.86 C274.63 140.28 276.88 138.01 279.00 135.50 C281.12 132.99 283.00 128.37 285.00 125.80 C287.00 123.23 289.17 121.20 291.00 120.10 C292.83 119.00 294.17 119.05 296.00 119.18 C297.83 119.31 299.67 119.58 302.00 120.90 C304.33 122.22 307.33 125.32 310.00 127.10 C312.67 128.88 316.23 130.74 318.00 131.60 C319.77 132.46 319.10 132.49 320.60 132.24 C322.10 131.99 324.67 132.08 327.00 130.10 C329.33 128.12 332.43 122.83 334.60 120.36 C336.77 117.89 338.20 116.37 340.00 115.30 C341.80 114.23 343.57 113.86 345.40 113.94 C347.23 114.02 348.73 114.24 351.00 115.80 C353.27 117.36 356.50 120.93 359.00 123.30 C361.50 125.67 364.13 128.46 366.00 130.00 C367.87 131.54 368.82 132.18 370.20 132.52 C371.58 132.86 372.67 132.91 374.30 132.04 C375.93 131.17 378.13 129.17 380.00 127.30 C381.87 125.43 383.75 122.60 385.50 120.80 C387.25 119.00 388.77 117.41 390.50 116.50 C392.23 115.59 394.15 115.20 395.90 115.32 C397.65 115.44 399.15 116.00 401.00 117.20 C402.85 118.40 405.00 120.48 407.00 122.50 C409.00 124.52 410.55 127.09 413.00 129.30 C415.45 131.51 419.20 135.16 421.70 135.78 C424.20 136.40 425.52 134.91 428.00 133.04 C430.48 131.17 433.73 127.22 436.60 124.54 C439.47 121.86 443.58 118.24 445.20 116.97 C446.82 115.69 445.17 116.40 446.30 116.89 C447.43 117.38 449.30 117.59 452.00 119.90 C454.70 122.21 459.32 127.36 462.50 130.78 C465.68 134.20 468.23 138.75 471.10 140.40 C473.97 142.05 476.90 140.72 479.70 140.66 C482.50 140.60 486.53 140.16 487.90 140.06" stroke="#f2b135" stroke-width="1.00" fill="none" stroke-linejoin="round" stroke-linecap="round"/>
<path d="M258.30 136.60 C258.92 136.82 260.57 137.52 262.00 137.90 C263.43 138.28 265.18 138.65 266.90 138.90 C268.62 139.15 270.32 140.35 272.30 139.40 C274.28 138.45 276.63 136.15 278.80 133.20 C280.97 130.25 283.15 124.87 285.30 121.70 C287.45 118.53 289.73 115.75 291.70 114.20 C293.67 112.65 295.12 112.23 297.10 112.40 C299.08 112.57 301.45 113.55 303.60 115.20 C305.75 116.85 308.10 120.33 310.00 122.30 C311.90 124.27 313.23 125.78 315.00 127.00 C316.77 128.22 318.40 129.88 320.60 129.60 C322.80 129.32 325.87 127.52 328.20 125.30 C330.53 123.08 332.63 118.70 334.60 116.30 C336.57 113.90 338.20 112.08 340.00 110.90 C341.80 109.72 343.60 109.20 345.40 109.20 C347.20 109.20 348.47 109.00 350.80 110.90 C353.13 112.80 356.53 117.72 359.40 120.60 C362.27 123.48 365.67 126.58 368.00 128.20 C370.33 129.82 371.73 130.50 373.40 130.30 C375.07 130.10 375.98 128.62 378.00 127.00 C380.02 125.38 383.42 122.77 385.50 120.60 C387.58 118.43 388.77 115.53 390.50 114.00 C392.23 112.47 394.15 111.57 395.90 111.40 C397.65 111.23 399.15 111.82 401.00 113.00 C402.85 114.18 405.00 116.33 407.00 118.50 C409.00 120.67 410.55 123.48 413.00 126.00 C415.45 128.52 419.20 132.70 421.70 133.60 C424.20 134.50 425.87 132.48 428.00 131.40 C430.13 130.32 432.52 128.18 434.50 127.10 C436.48 126.02 438.28 125.43 439.90 124.90 C441.52 124.37 442.77 123.72 444.20 123.90 C445.63 124.08 446.88 124.75 448.50 126.00 C450.12 127.25 451.93 129.97 453.90 131.40 C455.87 132.83 457.97 133.33 460.30 134.60 C462.63 135.87 465.73 137.55 467.90 139.00 C470.07 140.45 471.33 142.52 473.30 143.30 C475.27 144.08 477.27 143.63 479.70 143.70 C482.13 143.77 486.53 143.70 487.90 143.70" stroke="#d9443c" stroke-width="1.00" fill="none" stroke-linejoin="round" stroke-linecap="round"/>
<path d="M258.30 135.70 C259.42 136.08 262.67 137.33 265.00 138.00 C267.33 138.67 269.97 140.28 272.30 139.70 C274.63 139.12 276.88 136.95 279.00 134.50 C281.12 132.05 283.00 127.50 285.00 125.00 C287.00 122.50 289.17 120.52 291.00 119.50 C292.83 118.48 294.17 118.73 296.00 118.90 C297.83 119.07 299.67 119.23 302.00 120.50 C304.33 121.77 307.33 124.75 310.00 126.50 C312.67 128.25 316.23 130.12 318.00 131.00 C319.77 131.88 319.10 132.05 320.60 131.80 C322.10 131.55 324.67 131.53 327.00 129.50 C329.33 127.47 332.43 122.10 334.60 119.60 C336.77 117.10 338.20 115.58 340.00 114.50 C341.80 113.42 343.57 113.02 345.40 113.10 C347.23 113.18 348.73 113.43 351.00 115.00 C353.27 116.57 356.50 120.17 359.00 122.50 C361.50 124.83 364.13 127.52 366.00 129.00 C367.87 130.48 368.82 131.07 370.20 131.40 C371.58 131.73 372.67 131.82 374.30 131.00 C375.93 130.18 378.13 128.33 380.00 126.50 C381.87 124.67 383.75 121.83 385.50 120.00 C387.25 118.17 388.77 116.47 390.50 115.50 C392.23 114.53 394.15 114.12 395.90 114.20 C397.65 114.28 399.15 114.78 401.00 116.00 C402.85 117.22 405.00 119.42 407.00 121.50 C409.00 123.58 410.55 126.23 413.00 128.50 C415.45 130.77 419.20 134.52 421.70 135.10 C424.20 135.68 425.52 133.87 428.00 132.00 C430.48 130.13 433.73 126.52 436.60 123.90 C439.47 121.28 442.63 117.03 445.20 116.30 C447.77 115.57 449.12 117.17 452.00 119.50 C454.88 121.83 459.32 126.88 462.50 130.30 C465.68 133.72 468.23 138.20 471.10 140.00 C473.97 141.80 476.90 140.92 479.70 141.10 C482.50 141.28 486.53 141.10 487.90 141.10" stroke="#4aa868" stroke-width="1.00" fill="none" stroke-linejoin="round" stroke-linecap="round"/>
<path d="M258.30 138.76 C259.42 139.10 262.67 140.21 265.00 140.79 C267.33 141.38 269.97 143.00 272.30 142.25 C274.63 141.51 276.88 138.99 279.00 136.33 C281.12 133.67 283.00 128.94 285.00 126.30 C287.00 123.66 289.17 121.63 291.00 120.47 C292.83 119.32 294.17 119.24 296.00 119.36 C297.83 119.47 299.67 119.80 302.00 121.15 C304.33 122.50 307.33 125.67 310.00 127.47 C312.67 129.28 316.23 131.13 318.00 131.97 C319.77 132.81 319.10 132.77 320.60 132.52 C322.10 132.27 324.67 132.42 327.00 130.47 C329.33 128.53 332.43 123.28 334.60 120.83 C336.77 118.39 338.20 116.86 340.00 115.80 C341.80 114.74 343.57 114.38 345.40 114.47 C347.23 114.55 348.73 114.74 351.00 116.30 C353.27 117.86 356.50 121.41 359.00 123.80 C361.50 126.19 364.13 129.06 366.00 130.62 C367.87 132.19 368.82 132.88 370.20 133.22 C371.58 133.56 372.67 133.59 374.30 132.69 C375.93 131.79 378.13 129.70 380.00 127.80 C381.87 125.90 383.75 123.08 385.50 121.30 C387.25 119.52 388.77 118.00 390.50 117.12 C392.23 116.25 394.15 115.88 395.90 116.02 C397.65 116.16 399.15 116.77 401.00 117.95 C402.85 119.13 405.00 121.15 407.00 123.12 C409.00 125.10 410.55 127.62 413.00 129.80 C415.45 131.98 419.20 135.56 421.70 136.21 C424.20 136.85 425.52 135.57 428.00 133.69 C430.48 131.81 433.73 127.66 436.60 124.94 C439.47 122.22 443.58 118.72 445.20 117.38 C446.82 116.05 445.17 116.47 446.30 116.94 C447.43 117.40 449.30 117.46 452.00 120.15 C454.70 122.84 459.32 128.94 462.50 133.07 C465.68 137.19 468.23 142.94 471.10 144.91 C473.97 146.88 476.90 145.05 479.70 144.88 C482.50 144.72 486.53 144.07 487.90 143.91" stroke="#5fc3ee" stroke-width="1.00" fill="none" stroke-linejoin="round" stroke-linecap="round"/>
</g>
<path d="M258.52 162.20v-2.30M258.52 92.20v2.30M283.96 162.20v-2.30M283.96 92.20v2.30M309.40 162.20v-2.30M309.40 92.20v2.30M334.84 162.20v-2.30M334.84 92.20v2.30M360.28 162.20v-2.30M360.28 92.20v2.30M385.72 162.20v-2.30M385.72 92.20v2.30M411.16 162.20v-2.30M411.16 92.20v2.30M436.60 162.20v-2.30M436.60 92.20v2.30M462.04 162.20v-2.30M462.04 92.20v2.30M487.48 162.20v-2.30M487.48 92.20v2.30M256.40 158.87h2.30M489.60 158.87h-2.30M256.40 142.20h2.30M489.60 142.20h-2.30M256.40 125.53h2.30M489.60 125.53h-2.30M256.40 108.87h2.30M489.60 108.87h-2.30M256.40 92.20h2.30M489.60 92.20h-2.30" stroke="#262626" stroke-width="0.5" fill="none"/>
<rect x="256.40" y="92.20" width="233.20" height="70.00" stroke="#262626" stroke-width="0.6" fill="none"/>
<path d="M12.52 175.00V245.00M37.96 175.00V245.00M63.40 175.00V245.00M88.84 175.00V245.00M114.28 175.00V245.00M139.72 175.00V245.00M165.16 175.00V245.00M190.60 175.00V245.00M216.04 175.00V245.00M241.48 175.00V245.00M10.40 241.67H243.60M10.40 225.00H243.60M10.40 208.33H243.60M10.40 191.67H243.60" stroke="#e4e4e4" stroke-width="0.5" fill="none"/>
<clipPath id="cp4"><rect x="12.52" y="170.00" width="228.96" height="80.00"/></clipPath><g clip-path="url(#cp4)">
<path d="M10.40 211.50 C10.72 211.57 10.90 211.40 12.30 211.90 C13.70 212.40 16.47 213.78 18.80 214.50 C21.13 215.22 24.15 216.37 26.30 216.20 C28.45 216.03 30.10 215.00 31.70 213.50 C33.30 212.00 34.60 209.07 35.90 207.20 C37.20 205.33 38.35 203.63 39.50 202.30 C40.65 200.97 41.53 200.22 42.80 199.20 C44.07 198.18 45.72 196.45 47.10 196.20 C48.48 195.95 49.53 196.08 51.10 197.70 C52.67 199.32 54.70 202.57 56.50 205.90 C58.30 209.23 60.10 214.30 61.90 217.70 C63.70 221.10 65.62 224.15 67.30 226.30 C68.98 228.45 70.97 229.77 72.00 230.60 C73.03 231.43 72.58 231.65 73.50 231.30 C74.42 230.95 76.33 229.80 77.50 228.50 C78.67 227.20 79.43 225.35 80.50 223.50 C81.57 221.65 82.85 219.57 83.90 217.40 C84.95 215.23 85.82 212.85 86.80 210.50 C87.78 208.15 88.82 205.38 89.80 203.30 C90.78 201.22 91.73 199.55 92.70 198.00 C93.67 196.45 94.42 195.10 95.60 194.00 C96.78 192.90 98.52 191.75 99.80 191.40 C101.08 191.05 102.03 190.93 103.30 191.90 C104.57 192.87 105.93 195.13 107.40 197.20 C108.87 199.27 110.53 202.10 112.10 204.30 C113.67 206.50 115.28 208.62 116.80 210.40 C118.32 212.18 119.65 213.80 121.20 215.00 C122.75 216.20 124.72 217.40 126.10 217.60 C127.48 217.80 128.30 217.08 129.50 216.20 C130.70 215.32 131.60 214.63 133.30 212.30 C135.00 209.97 137.83 205.22 139.70 202.20 C141.57 199.18 142.98 196.02 144.50 194.20 C146.02 192.38 147.37 191.37 148.80 191.30 C150.23 191.23 151.48 191.92 153.10 193.80 C154.72 195.68 156.70 199.52 158.50 202.60 C160.30 205.68 162.28 209.07 163.90 212.30 C165.52 215.53 166.77 219.73 168.20 222.00 C169.63 224.27 171.07 225.53 172.50 225.90 C173.93 226.27 175.37 225.57 176.80 224.20 C178.23 222.83 179.67 219.90 181.10 217.70 C182.53 215.50 184.38 212.78 185.40 211.00 C186.42 209.22 186.43 208.58 187.20 207.00 C187.97 205.42 189.15 203.08 190.00 201.50 C190.85 199.92 191.30 198.72 192.30 197.50 C193.30 196.28 194.85 194.92 196.00 194.20 C197.15 193.48 198.20 193.23 199.20 193.20 C200.20 193.17 201.13 193.43 202.00 194.00 C202.87 194.57 203.57 195.52 204.40 196.60 C205.23 197.68 206.13 199.07 207.00 200.50 C207.87 201.93 208.30 202.68 209.60 205.20 C210.90 207.72 213.08 213.00 214.80 215.60 C216.52 218.20 218.53 219.53 219.90 220.80 C221.27 222.07 221.98 222.63 223.00 223.20 C224.02 223.77 225.00 224.23 226.00 224.20 C227.00 224.17 228.00 223.57 229.00 223.00 C230.00 222.43 230.35 221.75 232.00 220.80 C233.65 219.85 237.32 218.03 238.90 217.30 C240.48 216.57 241.07 216.55 241.50 216.40" stroke="#1a1a1a" stroke-width="1.00" fill="none" stroke-linejoin="round" stroke-linecap="round"/>
<path d="M12.30 224.20 C13.38 224.58 16.82 225.90 18.80 226.50 C20.78 227.10 22.05 228.05 24.20 227.80 C26.35 227.55 29.75 226.55 31.70 225.00 C33.65 223.45 34.52 220.75 35.90 218.50 C37.28 216.25 38.73 213.50 40.00 211.50 C41.27 209.50 42.25 207.75 43.50 206.50 C44.75 205.25 46.08 204.33 47.50 204.00 C48.92 203.67 50.32 203.83 52.00 204.50 C53.68 205.17 55.43 206.25 57.60 208.00 C59.77 209.75 62.17 213.25 65.00 215.00 C67.83 216.75 72.10 218.25 74.60 218.50 C77.10 218.75 77.67 218.25 80.00 216.50 C82.33 214.75 86.43 210.50 88.60 208.00 C90.77 205.50 91.38 203.08 93.00 201.50 C94.62 199.92 96.47 198.58 98.30 198.50 C100.13 198.42 101.30 198.92 104.00 201.00 C106.70 203.08 111.13 208.03 114.50 211.00 C117.87 213.97 121.90 217.55 124.20 218.80 C126.50 220.05 126.67 219.38 128.30 218.50 C129.93 217.62 132.13 215.58 134.00 213.50 C135.87 211.42 137.03 208.17 139.50 206.00 C141.97 203.83 145.63 200.67 148.80 200.50 C151.97 200.33 155.45 202.75 158.50 205.00 C161.55 207.25 164.05 211.33 167.10 214.00 C170.15 216.67 174.32 220.20 176.80 221.00 C179.28 221.80 179.70 220.88 182.00 218.80 C184.30 216.72 187.90 211.37 190.60 208.50 C193.30 205.63 195.97 202.43 198.20 201.60 C200.43 200.77 202.03 202.10 204.00 203.50 C205.97 204.90 207.57 207.25 210.00 210.00 C212.43 212.75 215.72 217.28 218.60 220.00 C221.48 222.72 224.73 225.38 227.30 226.30 C229.87 227.22 231.50 225.85 234.00 225.50 C236.50 225.15 240.92 224.42 242.30 224.20" stroke="#4f81d6" stroke-width="1.00" fill="none" stroke-linejoin="round" stroke-linecap="round"/>
<path d="M12.30 221.19 C13.38 221.55 16.82 222.78 18.80 223.35 C20.78 223.92 23.13 224.40 24.20 224.63 C25.27 224.85 23.95 224.99 25.20 224.68 C26.45 224.37 29.92 224.02 31.70 222.76 C33.48 221.51 34.52 219.04 35.90 217.14 C37.28 215.24 38.73 213.02 40.00 211.35 C41.27 209.68 42.25 208.15 43.50 207.09 C44.75 206.03 46.08 205.32 47.50 205.01 C48.92 204.70 50.32 204.73 52.00 205.23 C53.68 205.73 55.43 206.44 57.60 208.03 C59.77 209.62 62.17 213.02 65.00 214.75 C67.83 216.48 72.10 218.08 74.60 218.39 C77.10 218.70 77.67 218.31 80.00 216.60 C82.33 214.88 86.43 210.54 88.60 208.10 C90.77 205.66 91.38 203.45 93.00 201.95 C94.62 200.45 96.47 199.17 98.30 199.09 C100.13 199.01 101.30 199.45 104.00 201.45 C106.70 203.45 111.50 208.49 114.50 211.10 C117.50 213.71 120.38 215.97 122.00 217.11 C123.62 218.25 123.15 217.72 124.20 217.93 C125.25 218.15 126.67 219.11 128.30 218.39 C129.93 217.67 132.13 215.59 134.00 213.60 C135.87 211.61 137.03 208.56 139.50 206.45 C141.97 204.34 145.63 201.17 148.80 200.95 C151.97 200.72 155.45 202.97 158.50 205.10 C161.55 207.23 164.05 211.11 167.10 213.75 C170.15 216.39 174.32 220.12 176.80 220.96 C179.28 221.80 179.70 220.77 182.00 218.76 C184.30 216.75 187.90 211.62 190.60 208.88 C193.30 206.14 195.97 203.15 198.20 202.33 C200.43 201.51 202.03 202.65 204.00 203.95 C205.97 205.25 207.57 207.44 210.00 210.10 C212.43 212.76 215.72 217.31 218.60 219.89 C221.48 222.47 224.73 224.61 227.30 225.56 C229.87 226.51 231.50 225.70 234.00 225.60 C236.50 225.50 240.92 225.04 242.30 224.93" stroke="#f2b135" stroke-width="1.00" fill="none" stroke-linejoin="round" stroke-linecap="round"/>
<path d="M12.30 219.90 C13.38 220.25 16.65 221.35 18.80 222.00 C20.95 222.65 23.05 223.97 25.20 223.80 C27.35 223.63 29.92 222.63 31.70 221.00 C33.48 219.37 34.52 216.30 35.90 214.00 C37.28 211.70 38.57 209.27 40.00 207.20 C41.43 205.13 43.17 203.08 44.50 201.60 C45.83 200.12 46.85 199.03 48.00 198.30 C49.15 197.57 49.98 197.22 51.40 197.20 C52.82 197.18 54.98 197.47 56.50 198.20 C58.02 198.93 59.25 200.33 60.50 201.60 C61.75 202.87 62.42 204.10 64.00 205.80 C65.58 207.50 68.23 210.52 70.00 211.80 C71.77 213.08 73.10 213.47 74.60 213.50 C76.10 213.53 77.57 212.92 79.00 212.00 C80.43 211.08 81.05 210.53 83.20 208.00 C85.35 205.47 89.20 199.23 91.90 196.80 C94.60 194.37 97.07 193.50 99.40 193.40 C101.73 193.30 103.38 194.12 105.90 196.20 C108.42 198.28 111.82 203.22 114.50 205.90 C117.18 208.58 119.70 210.93 122.00 212.30 C124.30 213.67 126.30 214.57 128.30 214.10 C130.30 213.63 132.13 211.42 134.00 209.50 C135.87 207.58 137.03 204.93 139.50 202.60 C141.97 200.27 145.63 196.03 148.80 195.50 C151.97 194.97 155.45 197.32 158.50 199.40 C161.55 201.48 164.23 205.42 167.10 208.00 C169.97 210.58 173.37 213.53 175.70 214.90 C178.03 216.27 179.05 216.98 181.10 216.20 C183.15 215.42 185.70 212.07 188.00 210.20 C190.30 208.33 193.20 205.93 194.90 205.00 C196.60 204.07 197.10 204.43 198.20 204.60 C199.30 204.77 200.47 205.03 201.50 206.00 C202.53 206.97 203.05 208.32 204.40 210.40 C205.75 212.48 207.58 215.98 209.60 218.50 C211.62 221.02 214.43 223.87 216.50 225.50 C218.57 227.13 220.33 227.65 222.00 228.30 C223.67 228.95 225.08 229.28 226.50 229.40 C227.92 229.52 229.08 229.35 230.50 229.00 C231.92 228.65 233.67 227.77 235.00 227.30 C236.33 226.83 237.33 226.48 238.50 226.20 C239.67 225.92 241.42 225.70 242.00 225.60" stroke="#d9443c" stroke-width="1.00" fill="none" stroke-linejoin="round" stroke-linecap="round"/>
<path d="M12.30 219.90 C13.38 220.25 16.65 221.40 18.80 222.00 C20.95 222.60 23.05 223.58 25.20 223.50 C27.35 223.42 29.92 222.83 31.70 221.50 C33.48 220.17 34.52 217.50 35.90 215.50 C37.28 213.50 38.73 211.22 40.00 209.50 C41.27 207.78 42.25 206.23 43.50 205.20 C44.75 204.17 46.08 203.60 47.50 203.30 C48.92 203.00 50.32 202.97 52.00 203.40 C53.68 203.83 55.43 204.38 57.60 205.90 C59.77 207.42 62.17 210.78 65.00 212.50 C67.83 214.22 72.10 215.87 74.60 216.20 C77.10 216.53 77.67 216.20 80.00 214.50 C82.33 212.80 86.43 208.42 88.60 206.00 C90.77 203.58 91.38 201.47 93.00 200.00 C94.62 198.53 96.47 197.28 98.30 197.20 C100.13 197.12 101.30 197.53 104.00 199.50 C106.70 201.47 111.50 206.42 114.50 209.00 C117.50 211.58 119.70 213.80 122.00 215.00 C124.30 216.20 126.30 216.78 128.30 216.20 C130.30 215.62 132.13 213.45 134.00 211.50 C135.87 209.55 137.03 206.58 139.50 204.50 C141.97 202.42 145.63 199.25 148.80 199.00 C151.97 198.75 155.45 200.92 158.50 203.00 C161.55 205.08 164.05 208.87 167.10 211.50 C170.15 214.13 174.32 217.95 176.80 218.80 C179.28 219.65 179.70 218.58 182.00 216.60 C184.30 214.62 187.90 209.58 190.60 206.90 C193.30 204.22 195.97 201.32 198.20 200.50 C200.43 199.68 202.03 200.75 204.00 202.00 C205.97 203.25 207.57 205.38 210.00 208.00 C212.43 210.62 215.72 215.18 218.60 217.70 C221.48 220.22 224.73 222.13 227.30 223.10 C229.87 224.07 231.50 223.50 234.00 223.50 C236.50 223.50 240.92 223.17 242.30 223.10" stroke="#4aa868" stroke-width="1.00" fill="none" stroke-linejoin="round" stroke-linecap="round"/>
<path d="M12.30 224.32 C13.38 224.61 16.82 225.63 18.80 226.07 C20.78 226.51 23.13 226.86 24.20 226.97 C25.27 227.09 23.95 227.26 25.20 226.77 C26.45 226.28 29.92 225.60 31.70 224.05 C33.48 222.50 34.52 219.68 35.90 217.45 C37.28 215.23 38.73 212.61 40.00 210.70 C41.27 208.79 42.25 207.14 43.50 205.98 C44.75 204.82 46.08 204.04 47.50 203.72 C48.92 203.40 50.32 203.49 52.00 204.06 C53.68 204.63 55.43 205.50 57.60 207.16 C59.77 208.82 62.17 212.26 65.00 214.00 C67.83 215.74 72.10 217.30 74.60 217.58 C77.10 217.86 77.67 217.43 80.00 215.70 C82.33 213.97 86.43 209.67 88.60 207.20 C90.77 204.73 91.38 202.44 93.00 200.90 C94.62 199.36 96.47 198.06 98.30 197.98 C100.13 197.90 101.30 198.36 104.00 200.40 C106.70 202.44 111.50 207.56 114.50 210.20 C117.50 212.84 120.38 215.01 122.00 216.22 C123.62 217.43 123.15 217.22 124.20 217.45 C125.25 217.67 126.67 218.37 128.30 217.58 C129.93 216.79 132.13 214.73 134.00 212.70 C135.87 210.67 137.03 207.53 139.50 205.40 C141.97 203.27 145.63 200.10 148.80 199.90 C151.97 199.70 155.45 202.02 158.50 204.20 C161.55 206.38 164.05 210.35 167.10 213.00 C170.15 215.65 174.32 219.30 176.80 220.12 C179.28 220.94 179.70 219.96 182.00 217.92 C184.30 215.88 187.90 210.65 190.60 207.86 C193.30 205.07 195.97 201.99 198.20 201.16 C200.43 200.33 202.03 201.56 204.00 202.90 C205.97 204.24 207.57 206.50 210.00 209.20 C212.43 211.90 215.72 216.44 218.60 219.08 C221.48 221.72 224.73 224.08 227.30 225.02 C229.87 225.96 231.50 224.91 234.00 224.70 C236.50 224.49 240.92 223.92 242.30 223.76" stroke="#5fc3ee" stroke-width="1.00" fill="none" stroke-linejoin="round" stroke-linecap="round"/>
</g>
<path d="M12.52 245.00v-2.30M12.52 175.00v2.30M37.96 245.00v-2.30M37.96 175.00v2.30M63.40 245.00v-2.30M63.40 175.00v2.30M88.84 245.00v-2.30M88.84 175.00v2.30M114.28 245.00v-2.30M114.28 175.00v2.30M139.72 245.00v-2.30M139.72 175.00v2.30M165.16 245.00v-2.30M165.16 175.00v2.30M190.60 245.00v-2.30M190.60 175.00v2.30M216.04 245.00v-2.30M216.04 175.00v2.30M241.48 245.00v-2.30M241.48 175.00v2.30M10.40 241.67h2.30M243.60 241.67h-2.30M10.40 225.00h2.30M243.60 225.00h-2.30M10.40 208.33h2.30M243.60 208.33h-2.30M10.40 191.67h2.30M243.60 191.67h-2.30M10.40 175.00h2.30M243.60 175.00h-2.30" stroke="#262626" stroke-width="0.5" fill="none"/>
<rect x="10.40" y="175.00" width="233.20" height="70.00" stroke="#262626" stroke-width="0.6" fill="none"/>
<path d="M258.52 175.00V245.00M283.96 175.00V245.00M309.40 175.00V245.00M334.84 175.00V245.00M360.28 175.00V245.00M385.72 175.00V245.00M411.16 175.00V245.00M436.60 175.00V245.00M462.04 175.00V245.00M487.48 175.00V245.00M256.40 241.67H489.60M256.40 225.00H489.60M256.40 208.33H489.60M256.40 191.67H489.60" stroke="#e4e4e4" stroke-width="0.5" fill="none"/>
<clipPath id="cp5"><rect x="258.52" y="170.00" width="228.96" height="80.00"/></clipPath><g clip-path="url(#cp5)">
<path d="M256.60 212.50 C256.88 212.58 256.93 212.38 258.30 213.00 C259.67 213.62 262.47 215.52 264.80 216.20 C267.13 216.88 270.43 217.22 272.30 217.10 C274.17 216.98 274.88 216.43 276.00 215.50 C277.12 214.57 278.02 213.02 279.00 211.50 C279.98 209.98 280.90 208.07 281.90 206.40 C282.90 204.73 284.00 202.97 285.00 201.50 C286.00 200.03 286.98 198.72 287.90 197.60 C288.82 196.48 289.68 195.40 290.50 194.80 C291.32 194.20 291.70 193.88 292.80 194.00 C293.90 194.12 295.30 194.07 297.10 195.50 C298.90 196.93 301.45 200.15 303.60 202.60 C305.75 205.05 307.88 208.22 310.00 210.20 C312.12 212.18 314.17 213.78 316.30 214.50 C318.43 215.22 320.65 215.58 322.80 214.50 C324.95 213.42 327.23 210.52 329.20 208.00 C331.17 205.48 332.80 202.08 334.60 199.40 C336.40 196.72 338.20 193.62 340.00 191.90 C341.80 190.18 343.78 189.28 345.40 189.10 C347.02 188.92 348.08 189.45 349.70 190.80 C351.32 192.15 353.12 194.87 355.10 197.20 C357.08 199.53 359.45 202.82 361.60 204.80 C363.75 206.78 366.22 208.20 368.00 209.10 C369.78 210.00 370.97 210.17 372.30 210.20 C373.63 210.23 374.58 210.38 376.00 209.30 C377.42 208.22 378.93 205.88 380.80 203.70 C382.67 201.52 385.05 198.07 387.20 196.20 C389.35 194.33 391.53 192.68 393.70 192.50 C395.87 192.32 398.05 193.58 400.20 195.10 C402.35 196.62 404.45 199.45 406.60 201.60 C408.75 203.75 410.93 206.22 413.10 208.00 C415.27 209.78 417.45 211.75 419.60 212.30 C421.75 212.85 424.60 211.65 426.00 211.30 C427.40 210.95 426.77 211.28 428.00 210.20 C429.23 209.12 431.60 206.78 433.40 204.80 C435.20 202.82 437.18 200.10 438.80 198.30 C440.42 196.50 441.85 194.97 443.10 194.00 C444.35 193.03 445.05 192.50 446.30 192.50 C447.55 192.50 448.98 192.67 450.60 194.00 C452.22 195.33 454.02 197.98 456.00 200.50 C457.98 203.02 460.33 206.58 462.50 209.10 C464.67 211.62 467.03 213.88 469.00 215.60 C470.97 217.32 472.70 218.87 474.30 219.40 C475.90 219.93 477.15 219.08 478.60 218.80 C480.05 218.52 481.55 217.98 483.00 217.70 C484.45 217.42 486.58 217.20 487.30 217.10" stroke="#1a1a1a" stroke-width="1.00" fill="none" stroke-linejoin="round" stroke-linecap="round"/>
<path d="M258.30 225.30 C259.25 225.72 262.20 227.17 264.00 227.80 C265.80 228.43 267.10 229.57 269.10 229.10 C271.10 228.63 273.48 227.25 276.00 225.00 C278.52 222.75 282.03 218.43 284.20 215.60 C286.37 212.77 287.38 209.98 289.00 208.00 C290.62 206.02 292.23 204.28 293.90 203.70 C295.57 203.12 297.15 203.70 299.00 204.50 C300.85 205.30 302.83 206.67 305.00 208.50 C307.17 210.33 309.40 213.50 312.00 215.50 C314.60 217.50 318.10 220.17 320.60 220.50 C323.10 220.83 324.67 219.58 327.00 217.50 C329.33 215.42 332.43 210.67 334.60 208.00 C336.77 205.33 338.38 203.00 340.00 201.50 C341.62 200.00 342.80 199.17 344.30 199.00 C345.80 198.83 347.22 199.25 349.00 200.50 C350.78 201.75 352.67 204.17 355.00 206.50 C357.33 208.83 360.47 212.27 363.00 214.50 C365.53 216.73 368.20 219.23 370.20 219.90 C372.20 220.57 373.20 219.82 375.00 218.50 C376.80 217.18 379.00 214.50 381.00 212.00 C383.00 209.50 384.88 205.53 387.00 203.50 C389.12 201.47 391.53 200.05 393.70 199.80 C395.87 199.55 397.78 200.47 400.00 202.00 C402.22 203.53 404.67 206.58 407.00 209.00 C409.33 211.42 411.37 214.43 414.00 216.50 C416.63 218.57 420.47 220.98 422.80 221.40 C425.13 221.82 425.70 221.23 428.00 219.00 C430.30 216.77 433.73 210.90 436.60 208.00 C439.47 205.10 442.63 202.18 445.20 201.60 C447.77 201.02 449.12 202.10 452.00 204.50 C454.88 206.90 458.95 212.42 462.50 216.00 C466.05 219.58 470.43 224.42 473.30 226.00 C476.17 227.58 477.37 225.80 479.70 225.50 C482.03 225.20 486.03 224.42 487.30 224.20" stroke="#4f81d6" stroke-width="1.00" fill="none" stroke-linejoin="round" stroke-linecap="round"/>
<path d="M258.30 222.33 C259.25 222.72 262.88 224.23 264.00 224.67 C265.12 225.12 264.15 224.78 265.00 225.00 C265.85 225.22 267.88 225.90 269.10 226.00 C270.32 226.09 271.15 226.04 272.30 225.55 C273.45 225.06 275.05 223.78 276.00 223.06 C276.95 222.34 276.63 222.76 278.00 221.22 C279.37 219.67 282.37 216.17 284.20 213.78 C286.03 211.40 287.38 208.68 289.00 206.90 C290.62 205.12 292.23 203.59 293.90 203.09 C295.57 202.60 297.15 203.14 299.00 203.95 C300.85 204.76 302.83 206.21 305.00 207.95 C307.17 209.69 309.40 212.46 312.00 214.40 C314.60 216.34 318.10 219.23 320.60 219.56 C323.10 219.90 324.67 218.51 327.00 216.40 C329.33 214.29 332.43 209.52 334.60 206.90 C336.77 204.28 338.38 202.11 340.00 200.68 C341.62 199.24 342.80 198.45 344.30 198.28 C345.80 198.12 347.22 198.49 349.00 199.68 C350.78 200.86 352.67 203.11 355.00 205.40 C357.33 207.69 360.47 211.19 363.00 213.40 C365.53 215.62 368.20 218.02 370.20 218.69 C372.20 219.36 373.20 218.70 375.00 217.40 C376.80 216.10 379.00 213.35 381.00 210.90 C383.00 208.45 384.88 204.66 387.00 202.68 C389.12 200.69 391.53 199.23 393.70 198.98 C395.87 198.73 397.78 199.69 400.00 201.18 C402.22 202.66 404.67 205.53 407.00 207.90 C409.33 210.27 411.37 213.32 414.00 215.40 C416.63 217.48 420.47 219.89 422.80 220.35 C425.13 220.82 425.70 220.34 428.00 218.18 C430.30 216.02 433.73 210.26 436.60 207.40 C439.47 204.53 442.63 201.57 445.20 201.00 C447.77 200.42 449.12 201.59 452.00 203.95 C454.88 206.31 458.95 211.67 462.50 215.18 C466.05 218.69 470.43 223.41 473.30 225.01 C476.17 226.61 477.37 225.02 479.70 224.78 C482.03 224.55 486.03 223.79 487.30 223.59" stroke="#f2b135" stroke-width="1.00" fill="none" stroke-linejoin="round" stroke-linecap="round"/>
<path d="M258.30 219.90 C259.38 220.43 262.47 222.28 264.80 223.10 C267.13 223.92 269.97 225.40 272.30 224.80 C274.63 224.20 277.18 221.67 278.80 219.50 C280.42 217.33 280.88 214.13 282.00 211.80 C283.12 209.47 284.23 207.32 285.50 205.50 C286.77 203.68 288.03 202.25 289.60 200.90 C291.17 199.55 293.12 197.83 294.90 197.40 C296.68 196.97 298.13 197.07 300.30 198.30 C302.47 199.53 305.95 202.82 307.90 204.80 C309.85 206.78 310.60 208.77 312.00 210.20 C313.40 211.63 314.87 212.62 316.30 213.40 C317.73 214.18 318.98 215.13 320.60 214.90 C322.22 214.67 323.67 213.98 326.00 212.00 C328.33 210.02 332.27 205.67 334.60 203.00 C336.93 200.33 338.38 197.60 340.00 196.00 C341.62 194.40 342.80 193.57 344.30 193.40 C345.80 193.23 347.22 193.73 349.00 195.00 C350.78 196.27 352.55 198.47 355.00 201.00 C357.45 203.53 361.17 207.95 363.70 210.20 C366.23 212.45 368.32 213.95 370.20 214.50 C372.08 215.05 373.20 214.75 375.00 213.50 C376.80 212.25 379.00 209.42 381.00 207.00 C383.00 204.58 384.88 200.92 387.00 199.00 C389.12 197.08 391.53 195.67 393.70 195.50 C395.87 195.33 397.78 196.42 400.00 198.00 C402.22 199.58 404.67 202.67 407.00 205.00 C409.33 207.33 411.37 209.88 414.00 212.00 C416.63 214.12 420.47 216.93 422.80 217.70 C425.13 218.47 426.05 217.85 428.00 216.60 C429.95 215.35 432.52 211.98 434.50 210.20 C436.48 208.42 438.28 206.92 439.90 205.90 C441.52 204.88 442.58 203.93 444.20 204.10 C445.82 204.27 447.63 205.17 449.60 206.90 C451.57 208.63 453.85 212.15 456.00 214.50 C458.15 216.85 460.52 219.20 462.50 221.00 C464.48 222.80 466.28 224.05 467.90 225.30 C469.52 226.55 470.77 228.15 472.20 228.50 C473.63 228.85 475.25 227.93 476.50 227.40 C477.75 226.87 479.17 225.65 479.70 225.30" stroke="#d9443c" stroke-width="1.00" fill="none" stroke-linejoin="round" stroke-linecap="round"/>
<path d="M258.30 219.90 C259.42 220.33 262.67 221.78 265.00 222.50 C267.33 223.22 270.13 224.62 272.30 224.20 C274.47 223.78 276.02 221.98 278.00 220.00 C279.98 218.02 282.37 214.63 284.20 212.30 C286.03 209.97 287.38 207.62 289.00 206.00 C290.62 204.38 292.23 203.02 293.90 202.60 C295.57 202.18 297.15 202.68 299.00 203.50 C300.85 204.32 302.83 205.83 305.00 207.50 C307.17 209.17 309.40 211.62 312.00 213.50 C314.60 215.38 318.10 218.47 320.60 218.80 C323.10 219.13 324.67 217.63 327.00 215.50 C329.33 213.37 332.43 208.58 334.60 206.00 C336.77 203.42 338.38 201.38 340.00 200.00 C341.62 198.62 342.80 197.87 344.30 197.70 C345.80 197.53 347.22 197.87 349.00 199.00 C350.78 200.13 352.67 202.25 355.00 204.50 C357.33 206.75 360.47 210.30 363.00 212.50 C365.53 214.70 368.20 217.03 370.20 217.70 C372.20 218.37 373.20 217.78 375.00 216.50 C376.80 215.22 379.00 212.42 381.00 210.00 C383.00 207.58 384.88 203.95 387.00 202.00 C389.12 200.05 391.53 198.55 393.70 198.30 C395.87 198.05 397.78 199.05 400.00 200.50 C402.22 201.95 404.67 204.67 407.00 207.00 C409.33 209.33 411.37 212.42 414.00 214.50 C416.63 216.58 420.47 219.00 422.80 219.50 C425.13 220.00 425.70 219.60 428.00 217.50 C430.30 215.40 433.73 209.73 436.60 206.90 C439.47 204.07 442.63 201.07 445.20 200.50 C447.77 199.93 449.12 201.17 452.00 203.50 C454.88 205.83 458.95 211.05 462.50 214.50 C466.05 217.95 470.43 222.58 473.30 224.20 C476.17 225.82 477.37 224.38 479.70 224.20 C482.03 224.02 486.03 223.28 487.30 223.10" stroke="#4aa868" stroke-width="1.00" fill="none" stroke-linejoin="round" stroke-linecap="round"/>
<path d="M258.30 223.14 C259.25 223.54 262.88 225.08 264.00 225.52 C265.12 225.97 264.15 225.61 265.00 225.83 C265.85 226.05 267.88 226.81 269.10 226.84 C270.32 226.87 271.15 226.54 272.30 226.00 C273.45 225.46 275.05 224.32 276.00 223.59 C276.95 222.86 276.63 223.18 278.00 221.62 C279.37 220.07 282.37 216.68 284.20 214.28 C286.03 211.88 287.38 209.04 289.00 207.20 C290.62 205.36 292.23 203.78 293.90 203.26 C295.57 202.74 297.15 203.29 299.00 204.10 C300.85 204.91 302.83 206.33 305.00 208.10 C307.17 209.87 309.40 212.75 312.00 214.70 C314.60 216.65 318.10 219.49 320.60 219.82 C323.10 220.15 324.67 218.80 327.00 216.70 C329.33 214.60 332.43 209.83 334.60 207.20 C336.77 204.57 338.38 202.35 340.00 200.90 C341.62 199.45 342.80 198.65 344.30 198.48 C345.80 198.31 347.22 198.70 349.00 199.90 C350.78 201.10 352.67 203.40 355.00 205.70 C357.33 208.00 360.47 211.48 363.00 213.70 C365.53 215.92 368.20 218.35 370.20 219.02 C372.20 219.69 373.20 219.00 375.00 217.70 C376.80 216.40 379.00 213.67 381.00 211.20 C383.00 208.73 384.88 204.90 387.00 202.90 C389.12 200.90 391.53 199.45 393.70 199.20 C395.87 198.95 397.78 199.90 400.00 201.40 C402.22 202.90 404.67 205.82 407.00 208.20 C409.33 210.58 411.37 213.63 414.00 215.70 C416.63 217.77 420.47 220.19 422.80 220.64 C425.13 221.09 425.70 220.58 428.00 218.40 C430.30 216.22 433.73 210.43 436.60 207.56 C439.47 204.69 442.63 201.74 445.20 201.16 C447.77 200.58 449.12 201.73 452.00 204.10 C454.88 206.47 458.95 211.87 462.50 215.40 C466.05 218.93 470.43 223.68 473.30 225.28 C476.17 226.88 477.37 225.23 479.70 224.98 C482.03 224.73 486.03 223.96 487.30 223.76" stroke="#5fc3ee" stroke-width="1.00" fill="none" stroke-linejoin="round" stroke-linecap="round"/>
</g>
<path d="M258.52 245.00v-2.30M258.52 175.00v2.30M283.96 245.00v-2.30M283.96 175.00v2.30M309.40 245.00v-2.30M309.40 175.00v2.30M334.84 245.00v-2.30M334.84 175.00v2.30M360.28 245.00v-2.30M360.28 175.00v2.30M385.72 245.00v-2.30M385.72 175.00v2.30M411.16 245.00v-2.30M411.16 175.00v2.30M436.60 245.00v-2.30M436.60 175.00v2.30M462.04 245.00v-2.30M462.04 175.00v2.30M487.48 245.00v-2.30M487.48 175.00v2.30M256.40 241.67h2.30M489.60 241.67h-2.30M256.40 225.00h2.30M489.60 225.00h-2.30M256.40 208.33h2.30M489.60 208.33h-2.30M256.40 191.67h2.30M489.60 191.67h-2.30M256.40 175.00h2.30M489.60 175.00h-2.30" stroke="#262626" stroke-width="0.5" fill="none"/>
<rect x="256.40" y="175.00" width="233.20" height="70.00" stroke="#262626" stroke-width="0.6" fill="none"/>
<g class="t" fill="#262626" stroke="#262626" stroke-width="0.5"><text transform="translate(9.20 77.67) scale(0.100)" font-size="39.00" text-anchor="end">25</text><text transform="translate(9.20 61.00) scale(0.100)" font-size="39.00" text-anchor="end">30</text><text transform="translate(9.20 44.33) scale(0.100)" font-size="39.00" text-anchor="end">35</text><text transform="translate(9.20 27.67) scale(0.100)" font-size="39.00" text-anchor="end">40</text><text transform="translate(9.20 11.00) scale(0.100)" font-size="39.00" text-anchor="end">45</text><text transform="translate(12.52 84.60) scale(0.100)" font-size="39.00" text-anchor="middle">21 23:00</text><text transform="translate(37.96 84.60) scale(0.100)" font-size="39.00" text-anchor="middle">22 11:00</text><text transform="translate(63.40 84.60) scale(0.100)" font-size="39.00" text-anchor="middle">22 23:00</text><text transform="translate(88.84 84.60) scale(0.100)" font-size="39.00" text-anchor="middle">23 11:00</text><text transform="translate(114.28 84.60) scale(0.100)" font-size="39.00" text-anchor="middle">23 23:00</text><text transform="translate(139.72 84.60) scale(0.100)" font-size="39.00" text-anchor="middle">24 11:00</text><text transform="translate(165.16 84.60) scale(0.100)" font-size="39.00" text-anchor="middle">24 23:00</text><text transform="translate(190.60 84.60) scale(0.100)" font-size="39.00" text-anchor="middle">25 11:00</text><text transform="translate(216.04 84.60) scale(0.100)" font-size="39.00" text-anchor="middle">25 23:00</text><text transform="translate(241.48 84.60) scale(0.100)" font-size="39.00" text-anchor="middle">26 11:00</text><text transform="translate(127.00 8.20) scale(0.100)" font-size="43.50" text-anchor="middle" fill="#000">Lian Hua Cun  Temperature (°C)</text><text transform="translate(255.20 77.67) scale(0.100)" font-size="39.00" text-anchor="end">25</text><text transform="translate(255.20 61.00) scale(0.100)" font-size="39.00" text-anchor="end">30</text><text transform="translate(255.20 44.33) scale(0.100)" font-size="39.00" text-anchor="end">35</text><text transform="translate(255.20 27.67) scale(0.100)" font-size="39.00" text-anchor="end">40</text><text transform="translate(255.20 11.00) scale(0.100)" font-size="39.00" text-anchor="end">45</text><text transform="translate(258.52 84.60) scale(0.100)" font-size="39.00" text-anchor="middle">21 23:00</text><text transform="translate(283.96 84.60) scale(0.100)" font-size="39.00" text-anchor="middle">22 11:00</text><text transform="translate(309.40 84.60) scale(0.100)" font-size="39.00" text-anchor="middle">22 23:00</text><text transform="translate(334.84 84.60) scale(0.100)" font-size="39.00" text-anchor="middle">23 11:00</text><text transform="translate(360.28 84.60) scale(0.100)" font-size="39.00" text-anchor="middle">23 23:00</text><text transform="translate(385.72 84.60) scale(0.100)" font-size="39.00" text-anchor="middle">24 11:00</text><text transform="translate(411.16 84.60) scale(0.100)" font-size="39.00" text-anchor="middle">24 23:00</text><text transform="translate(436.60 84.60) scale(0.100)" font-size="39.00" text-anchor="middle">25 11:00</text><text transform="translate(462.04 84.60) scale(0.100)" font-size="39.00" text-anchor="middle">25 23:00</text><text transform="translate(487.48 84.60) scale(0.100)" font-size="39.00" text-anchor="middle">26 11:00</text><text transform="translate(373.00 8.20) scale(0.100)" font-size="43.50" text-anchor="middle" fill="#000">505  Temperature (°C)</text><text transform="translate(9.20 160.47) scale(0.100)" font-size="39.00" text-anchor="end">25</text><text transform="translate(9.20 143.80) scale(0.100)" font-size="39.00" text-anchor="end">30</text><text transform="translate(9.20 127.13) scale(0.100)" font-size="39.00" text-anchor="end">35</text><text transform="translate(9.20 110.47) scale(0.100)" font-size="39.00" text-anchor="end">40</text><text transform="translate(9.20 93.80) scale(0.100)" font-size="39.00" text-anchor="end">45</text><text transform="translate(12.52 167.40) scale(0.100)" font-size="39.00" text-anchor="middle">21 23:00</text><text transform="translate(37.96 167.40) scale(0.100)" font-size="39.00" text-anchor="middle">22 11:00</text><text transform="translate(63.40 167.40) scale(0.100)" font-size="39.00" text-anchor="middle">22 23:00</text><text transform="translate(88.84 167.40) scale(0.100)" font-size="39.00" text-anchor="middle">23 11:00</text><text transform="translate(114.28 167.40) scale(0.100)" font-size="39.00" text-anchor="middle">23 23:00</text><text transform="translate(139.72 167.40) scale(0.100)" font-size="39.00" text-anchor="middle">24 11:00</text><text transform="translate(165.16 167.40) scale(0.100)" font-size="39.00" text-anchor="middle">24 23:00</text><text transform="translate(190.60 167.40) scale(0.100)" font-size="39.00" text-anchor="middle">25 11:00</text><text transform="translate(216.04 167.40) scale(0.100)" font-size="39.00" text-anchor="middle">25 23:00</text><text transform="translate(241.48 167.40) scale(0.100)" font-size="39.00" text-anchor="middle">26 11:00</text><text transform="translate(127.00 90.60) scale(0.100)" font-size="43.50" text-anchor="middle" fill="#000">Chao Yang  Temperature (°C)</text><text transform="translate(255.20 160.47) scale(0.100)" font-size="39.00" text-anchor="end">25</text><text transform="translate(255.20 143.80) scale(0.100)" font-size="39.00" text-anchor="end">30</text><text transform="translate(255.20 127.13) scale(0.100)" font-size="39.00" text-anchor="end">35</text><text transform="translate(255.20 110.47) scale(0.100)" font-size="39.00" text-anchor="end">40</text><text transform="translate(255.20 93.80) scale(0.100)" font-size="39.00" text-anchor="end">45</text><text transform="translate(258.52 167.40) scale(0.100)" font-size="39.00" text-anchor="middle">21 23:00</text><text transform="translate(283.96 167.40) scale(0.100)" font-size="39.00" text-anchor="middle">22 11:00</text><text transform="translate(309.40 167.40) scale(0.100)" font-size="39.00" text-anchor="middle">22 23:00</text><text transform="translate(334.84 167.40) scale(0.100)" font-size="39.00" text-anchor="middle">23 11:00</text><text transform="translate(360.28 167.40) scale(0.100)" font-size="39.00" text-anchor="middle">23 23:00</text><text transform="translate(385.72 167.40) scale(0.100)" font-size="39.00" text-anchor="middle">24 11:00</text><text transform="translate(411.16 167.40) scale(0.100)" font-size="39.00" text-anchor="middle">24 23:00</text><text transform="translate(436.60 167.40) scale(0.100)" font-size="39.00" text-anchor="middle">25 11:00</text><text transform="translate(462.04 167.40) scale(0.100)" font-size="39.00" text-anchor="middle">25 23:00</text><text transform="translate(487.48 167.40) scale(0.100)" font-size="39.00" text-anchor="middle">26 11:00</text><text transform="translate(373.00 90.60) scale(0.100)" font-size="43.50" text-anchor="middle" fill="#000">Da Mo Tan  Temperature (°C)</text><text transform="translate(9.20 243.27) scale(0.100)" font-size="39.00" text-anchor="end">25</text><text transform="translate(9.20 226.60) scale(0.100)" font-size="39.00" text-anchor="end">30</text><text transform="translate(9.20 209.93) scale(0.100)" font-size="39.00" text-anchor="end">35</text><text transform="translate(9.20 193.27) scale(0.100)" font-size="39.00" text-anchor="end">40</text><text transform="translate(9.20 176.60) scale(0.100)" font-size="39.00" text-anchor="end">45</text><text transform="translate(12.52 250.20) scale(0.100)" font-size="39.00" text-anchor="middle">21 23:00</text><text transform="translate(37.96 250.20) scale(0.100)" font-size="39.00" text-anchor="middle">22 11:00</text><text transform="translate(63.40 250.20) scale(0.100)" font-size="39.00" text-anchor="middle">22 23:00</text><text transform="translate(88.84 250.20) scale(0.100)" font-size="39.00" text-anchor="middle">23 11:00</text><text transform="translate(114.28 250.20) scale(0.100)" font-size="39.00" text-anchor="middle">23 23:00</text><text transform="translate(139.72 250.20) scale(0.100)" font-size="39.00" text-anchor="middle">24 11:00</text><text transform="translate(165.16 250.20) scale(0.100)" font-size="39.00" text-anchor="middle">24 23:00</text><text transform="translate(190.60 250.20) scale(0.100)" font-size="39.00" text-anchor="middle">25 11:00</text><text transform="translate(216.04 250.20) scale(0.100)" font-size="39.00" text-anchor="middle">25 23:00</text><text transform="translate(241.48 250.20) scale(0.100)" font-size="39.00" text-anchor="middle">26 11:00</text><text transform="translate(127.00 173.65) scale(0.100)" font-size="43.50" text-anchor="middle" fill="#000">Qi Tang  Temperature (°C)</text><text transform="translate(255.20 243.27) scale(0.100)" font-size="39.00" text-anchor="end">25</text><text transform="translate(255.20 226.60) scale(0.100)" font-size="39.00" text-anchor="end">30</text><text transform="translate(255.20 209.93) scale(0.100)" font-size="39.00" text-anchor="end">35</text><text transform="translate(255.20 193.27) scale(0.100)" font-size="39.00" text-anchor="end">40</text><text transform="translate(255.20 176.60) scale(0.100)" font-size="39.00" text-anchor="end">45</text><text transform="translate(258.52 250.20) scale(0.100)" font-size="39.00" text-anchor="middle">21 23:00</text><text transform="translate(283.96 250.20) scale(0.100)" font-size="39.00" text-anchor="middle">22 11:00</text><text transform="translate(309.40 250.20) scale(0.100)" font-size="39.00" text-anchor="middle">22 23:00</text><text transform="translate(334.84 250.20) scale(0.100)" font-size="39.00" text-anchor="middle">23 11:00</text><text transform="translate(360.28 250.20) scale(0.100)" font-size="39.00" text-anchor="middle">23 23:00</text><text transform="translate(385.72 250.20) scale(0.100)" font-size="39.00" text-anchor="middle">24 11:00</text><text transform="translate(411.16 250.20) scale(0.100)" font-size="39.00" text-anchor="middle">24 23:00</text><text transform="translate(436.60 250.20) scale(0.100)" font-size="39.00" text-anchor="middle">25 11:00</text><text transform="translate(462.04 250.20) scale(0.100)" font-size="39.00" text-anchor="middle">25 23:00</text><text transform="translate(487.48 250.20) scale(0.100)" font-size="39.00" text-anchor="middle">26 11:00</text><text transform="translate(373.00 173.65) scale(0.100)" font-size="43.50" text-anchor="middle" fill="#000">Ba Tang  Temperature (°C)</text></g>
<rect x="192.20" y="63.50" width="44.40" height="14.60" fill="#fff" stroke="#262626" stroke-width="0.5"/>
<path d="M193.10 66.55h6.4" stroke="#1a1a1a" stroke-width="0.85"/>
<path d="M193.10 70.95h6.4" stroke="#4f81d6" stroke-width="0.85"/>
<path d="M193.10 75.35h6.4" stroke="#f2b135" stroke-width="0.85"/>
<path d="M215.50 66.55h6.4" stroke="#d9443c" stroke-width="0.85"/>
<path d="M215.50 70.95h6.4" stroke="#4aa868" stroke-width="0.85"/>
<path d="M215.50 75.35h6.4" stroke="#5fc3ee" stroke-width="0.85"/>
<g class="t" fill="#222"><text transform="translate(200.10 68.00) scale(0.100)" font-size="39.00">Obs</text><text transform="translate(200.10 72.40) scale(0.100)" font-size="39.00">MYJ</text><text transform="translate(200.10 76.80) scale(0.100)" font-size="39.00">MYNN2</text><text transform="translate(222.50 68.00) scale(0.100)" font-size="39.00">MYNN3</text><text transform="translate(222.50 72.40) scale(0.100)" font-size="39.00">BouLac</text><text transform="translate(222.50 76.80) scale(0.100)" font-size="39.00">UW</text></g>
</svg></body></html>
